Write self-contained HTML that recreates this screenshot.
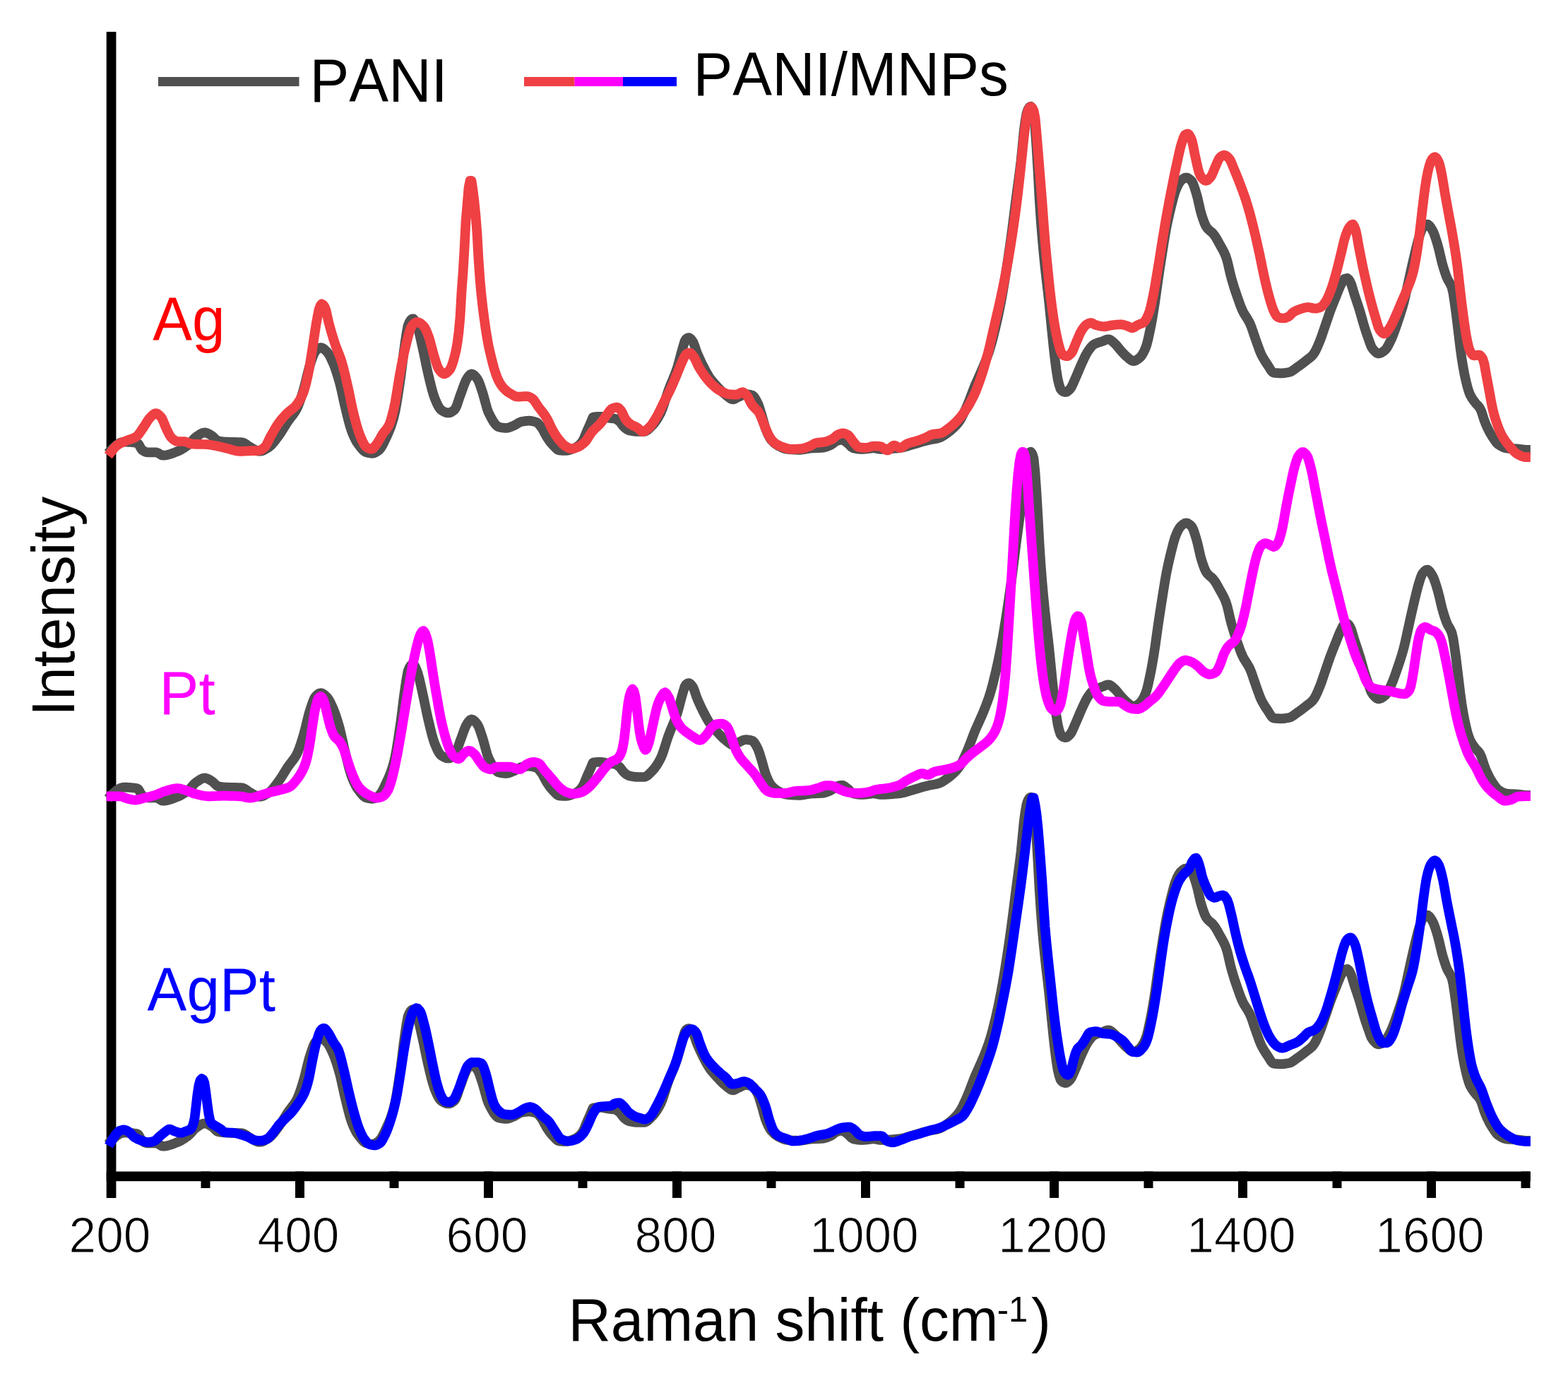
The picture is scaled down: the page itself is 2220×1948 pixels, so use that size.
<!DOCTYPE html>
<html lang="en"><head><meta charset="utf-8"><title>Raman spectra of PANI and PANI/MNPs</title>
<style>
html,body{margin:0;padding:0;background:#fff;}
body{width:2220px;height:1948px;overflow:hidden;}
svg{display:block;}
text{font-family:"Liberation Sans",sans-serif;fill:#000;font-kerning:none;}
.tk{stroke:#fff;stroke-width:1.6;stroke-linejoin:round;}
</style></head>
<body>
<svg width="2220" height="1948" viewBox="0 0 2220 1948" role="img" aria-label="Raman spectra">
<rect width="2220" height="1948" fill="#fff"/>

<g>
<g id="axes">
<rect x="150.7" y="45.0" width="13.7" height="1650.9" fill="#000"/>
<rect x="150.7" y="1658.5" width="2016.15" height="13.7" fill="#000"/>
<rect x="151.00" y="1658.5" width="13.0" height="37.40" fill="#000"/>
<rect x="284.50" y="1658.5" width="13.0" height="23.50" fill="#000"/>
<rect x="418.00" y="1658.5" width="13.0" height="37.40" fill="#000"/>
<rect x="551.50" y="1658.5" width="13.0" height="23.50" fill="#000"/>
<rect x="685.00" y="1658.5" width="13.0" height="37.40" fill="#000"/>
<rect x="818.50" y="1658.5" width="13.0" height="23.50" fill="#000"/>
<rect x="952.00" y="1658.5" width="13.0" height="37.40" fill="#000"/>
<rect x="1085.50" y="1658.5" width="13.0" height="23.50" fill="#000"/>
<rect x="1219.00" y="1658.5" width="13.0" height="37.40" fill="#000"/>
<rect x="1352.50" y="1658.5" width="13.0" height="23.50" fill="#000"/>
<rect x="1486.00" y="1658.5" width="13.0" height="37.40" fill="#000"/>
<rect x="1619.50" y="1658.5" width="13.0" height="23.50" fill="#000"/>
<rect x="1753.00" y="1658.5" width="13.0" height="37.40" fill="#000"/>
<rect x="1886.50" y="1658.5" width="13.0" height="23.50" fill="#000"/>
<rect x="2020.00" y="1658.5" width="13.0" height="37.40" fill="#000"/>
<rect x="2153.50" y="1658.5" width="13.0" height="23.50" fill="#000"/>
</g>
<g id="legend">
<rect x="224.0" y="109.0" width="199.5" height="13.1" fill="#505050"/>
<rect x="742.0" y="109.0" width="71.5" height="13.1" fill="#ef4044"/>
<rect x="813.5" y="109.0" width="68.5" height="13.1" fill="#ff00ff"/>
<rect x="882.0" y="109.0" width="76.0" height="13.1" fill="#0000ff"/>
</g>
<g id="curves">
<path d="M157.5,636.9 L159.5,634.9 L161.5,633.1 L163.5,631.3 L165.5,629.7 L167.5,628.3 L169.5,627.2 L171.5,626.3 L173.5,625.8 L175.5,625.6 L177.5,625.7 L179.5,625.7 L181.5,625.8 L183.5,625.9 L185.5,626.0 L187.5,626.2 L189.5,626.4 L191.5,626.7 L193.5,627.0 L195.5,627.9 L197.5,630.9 L199.5,634.7 L201.5,637.3 L203.5,638.5 L205.5,639.5 L207.5,640.2 L209.5,640.3 L211.5,640.3 L213.5,640.3 L215.5,640.3 L217.5,640.3 L219.5,640.3 L221.5,640.4 L223.5,641.1 L225.5,642.3 L227.5,643.5 L229.5,644.5 L231.5,644.7 L233.5,644.6 L235.5,644.3 L237.5,643.9 L239.5,643.3 L241.5,642.7 L243.5,642.0 L245.5,641.3 L247.5,640.5 L249.5,639.7 L251.5,638.9 L253.5,638.0 L255.5,637.0 L257.5,635.9 L259.5,634.7 L261.5,633.4 L263.5,632.0 L265.5,630.6 L267.5,629.0 L269.5,627.0 L271.5,624.7 L273.5,622.4 L275.5,620.3 L277.5,618.6 L279.5,617.2 L281.5,615.9 L283.5,614.6 L285.5,613.5 L287.5,612.7 L289.5,612.4 L291.5,612.6 L293.5,613.3 L295.5,614.2 L297.5,615.4 L299.5,616.6 L301.5,618.0 L303.5,620.0 L305.5,622.0 L307.5,623.6 L309.5,624.3 L311.5,624.7 L313.5,624.9 L315.5,625.2 L317.5,625.4 L319.5,625.5 L321.5,625.6 L323.5,625.7 L325.5,625.8 L327.5,625.8 L329.5,625.9 L331.5,625.9 L333.5,625.9 L335.5,626.0 L337.5,626.0 L339.5,626.1 L341.5,626.2 L343.5,626.4 L345.5,627.1 L347.5,628.3 L349.5,629.7 L351.5,631.2 L353.5,632.5 L355.5,633.6 L357.5,634.8 L359.5,636.0 L361.5,637.1 L363.5,638.0 L365.5,638.6 L367.5,638.8 L369.5,638.6 L371.5,638.1 L373.5,637.3 L375.5,636.2 L377.5,635.0 L379.5,633.7 L381.5,632.4 L383.5,630.7 L385.5,628.6 L387.5,626.3 L389.5,623.7 L391.5,621.0 L393.5,618.3 L395.5,615.6 L397.5,612.7 L399.5,609.6 L401.5,606.4 L403.5,603.1 L405.5,599.9 L407.5,596.8 L409.5,594.0 L411.5,591.4 L413.5,588.8 L415.5,586.2 L417.5,583.3 L419.5,580.0 L421.5,575.9 L423.5,571.0 L425.5,565.3 L427.5,559.1 L429.5,552.6 L431.5,545.4 L433.5,537.2 L435.5,528.8 L437.5,521.1 L439.5,514.7 L441.5,508.7 L443.5,503.1 L445.5,498.7 L447.5,496.1 L449.5,494.3 L451.5,492.8 L453.5,492.1 L455.5,492.3 L457.5,493.2 L459.5,494.7 L461.5,496.6 L463.5,498.6 L465.5,501.4 L467.5,505.0 L469.5,509.2 L471.5,513.6 L473.5,518.5 L475.5,524.1 L477.5,530.3 L479.5,537.0 L481.5,544.2 L483.5,552.7 L485.5,561.8 L487.5,571.0 L489.5,579.4 L491.5,587.5 L493.5,595.5 L495.5,602.9 L497.5,609.3 L499.5,614.4 L501.5,619.0 L503.5,623.0 L505.5,626.5 L507.5,629.3 L509.5,632.0 L511.5,634.5 L513.5,636.8 L515.5,638.6 L517.5,639.9 L519.5,640.5 L521.5,641.0 L523.5,641.4 L525.5,641.7 L527.5,641.8 L529.5,641.5 L531.5,640.6 L533.5,639.4 L535.5,638.0 L537.5,636.3 L539.5,633.7 L541.5,630.4 L543.5,626.5 L545.5,622.3 L547.5,618.0 L549.5,613.6 L551.5,608.9 L553.5,603.7 L555.5,597.7 L557.5,590.8 L559.5,582.2 L561.5,571.4 L563.5,559.0 L565.5,545.8 L567.5,532.1 L569.5,516.1 L571.5,499.6 L573.5,485.4 L575.5,472.0 L577.5,461.3 L579.5,456.3 L581.5,453.1 L583.5,451.3 L585.5,451.4 L587.5,454.2 L589.5,458.6 L591.5,463.7 L593.5,471.0 L595.5,479.7 L597.5,488.8 L599.5,497.7 L601.5,507.3 L603.5,517.1 L605.5,526.4 L607.5,534.9 L609.5,543.2 L611.5,551.1 L613.5,558.1 L615.5,563.9 L617.5,568.7 L619.5,573.1 L621.5,576.8 L623.5,579.4 L625.5,580.9 L627.5,582.2 L629.5,583.3 L631.5,584.0 L633.5,584.5 L635.5,584.5 L637.5,584.0 L639.5,583.0 L641.5,581.7 L643.5,580.1 L645.5,577.0 L647.5,571.9 L649.5,565.9 L651.5,560.0 L653.5,554.8 L655.5,549.1 L657.5,543.6 L659.5,538.8 L661.5,535.4 L663.5,532.5 L665.5,530.3 L667.5,529.4 L669.5,529.9 L671.5,531.3 L673.5,533.4 L675.5,535.8 L677.5,539.3 L679.5,544.5 L681.5,550.5 L683.5,556.5 L685.5,563.5 L687.5,571.0 L689.5,578.2 L691.5,583.8 L693.5,587.8 L695.5,591.6 L697.5,595.1 L699.5,598.3 L701.5,600.9 L703.5,602.9 L705.5,604.2 L707.5,604.8 L709.5,605.2 L711.5,605.5 L713.5,605.8 L715.5,605.9 L717.5,605.9 L719.5,605.6 L721.5,605.0 L723.5,604.2 L725.5,603.3 L727.5,602.5 L729.5,601.5 L731.5,600.3 L733.5,599.1 L735.5,598.0 L737.5,597.2 L739.5,596.7 L741.5,596.4 L743.5,596.1 L745.5,595.9 L747.5,595.7 L749.5,595.7 L751.5,595.8 L753.5,596.2 L755.5,596.6 L757.5,597.2 L759.5,597.8 L761.5,599.1 L763.5,601.2 L765.5,603.7 L767.5,606.4 L769.5,610.0 L771.5,613.9 L773.5,617.6 L775.5,620.7 L777.5,623.6 L779.5,626.3 L781.5,628.7 L783.5,630.8 L785.5,633.0 L787.5,635.0 L789.5,636.6 L791.5,637.4 L793.5,637.6 L795.5,637.8 L797.5,637.9 L799.5,638.0 L801.5,637.9 L803.5,637.7 L805.5,637.3 L807.5,636.7 L809.5,636.0 L811.5,635.2 L813.5,634.4 L815.5,633.4 L817.5,632.1 L819.5,630.5 L821.5,628.6 L823.5,626.4 L825.5,623.4 L827.5,619.0 L829.5,614.0 L831.5,609.3 L833.5,604.8 L835.5,600.3 L837.5,595.5 L839.5,590.7 L841.5,590.2 L843.5,590.0 L845.5,589.9 L847.5,589.9 L849.5,589.8 L851.5,589.9 L853.5,590.1 L855.5,590.5 L857.5,591.0 L859.5,591.4 L861.5,591.8 L863.5,592.0 L865.5,592.2 L867.5,592.3 L869.5,592.6 L871.5,592.9 L873.5,593.9 L875.5,595.4 L877.5,597.0 L879.5,599.5 L881.5,602.3 L883.5,604.6 L885.5,606.3 L887.5,607.7 L889.5,608.8 L891.5,609.5 L893.5,609.9 L895.5,610.3 L897.5,610.6 L899.5,610.8 L901.5,610.9 L903.5,611.0 L905.5,611.0 L907.5,611.0 L909.5,611.0 L911.5,611.0 L913.5,610.7 L915.5,609.7 L917.5,608.3 L919.5,606.4 L921.5,604.4 L923.5,602.3 L925.5,600.1 L927.5,597.6 L929.5,594.8 L931.5,591.6 L933.5,588.1 L935.5,584.3 L937.5,579.6 L939.5,574.0 L941.5,567.7 L943.5,561.3 L945.5,555.2 L947.5,549.7 L949.5,544.6 L951.5,539.8 L953.5,535.0 L955.5,530.0 L957.5,524.6 L959.5,518.6 L961.5,511.4 L963.5,503.6 L965.5,496.2 L967.5,489.4 L969.5,482.9 L971.5,479.8 L973.5,478.4 L975.5,478.0 L977.5,479.3 L979.5,481.6 L981.5,484.5 L983.5,489.6 L985.5,495.7 L987.5,500.9 L989.5,505.5 L991.5,509.9 L993.5,514.1 L995.5,518.1 L997.5,522.0 L999.5,525.8 L1001.5,529.4 L1003.5,532.7 L1005.5,535.7 L1007.5,538.3 L1009.5,540.7 L1011.5,543.0 L1013.5,545.1 L1015.5,547.3 L1017.5,549.5 L1019.5,551.7 L1021.5,553.7 L1023.5,555.7 L1025.5,557.4 L1027.5,559.0 L1029.5,560.7 L1031.5,562.3 L1033.5,563.8 L1035.5,564.9 L1037.5,565.4 L1039.5,565.2 L1041.5,564.2 L1043.5,563.0 L1045.5,562.1 L1047.5,561.1 L1049.5,560.1 L1051.5,559.1 L1053.5,558.5 L1055.5,558.1 L1057.5,558.2 L1059.5,558.4 L1061.5,558.7 L1063.5,559.2 L1065.5,559.8 L1067.5,561.6 L1069.5,564.6 L1071.5,568.2 L1073.5,572.3 L1075.5,578.1 L1077.5,584.6 L1079.5,591.3 L1081.5,598.6 L1083.5,605.5 L1085.5,610.7 L1087.5,615.3 L1089.5,619.2 L1091.5,622.3 L1093.5,624.5 L1095.5,626.5 L1097.5,628.2 L1099.5,629.6 L1101.5,630.9 L1103.5,631.9 L1105.5,632.9 L1107.5,633.9 L1109.5,634.7 L1111.5,635.4 L1113.5,635.8 L1115.5,636.0 L1117.5,636.2 L1119.5,636.3 L1121.5,636.5 L1123.5,636.6 L1125.5,636.7 L1127.5,636.7 L1129.5,636.8 L1131.5,636.8 L1133.5,636.8 L1135.5,636.6 L1137.5,636.3 L1139.5,636.0 L1141.5,635.6 L1143.5,635.3 L1145.5,634.9 L1147.5,634.6 L1149.5,634.5 L1151.5,634.3 L1153.5,634.3 L1155.5,634.2 L1157.5,634.2 L1159.5,634.1 L1161.5,634.0 L1163.5,633.9 L1165.5,633.7 L1167.5,633.3 L1169.5,632.7 L1171.5,632.0 L1173.5,631.2 L1175.5,630.3 L1177.5,629.2 L1179.5,627.8 L1181.5,626.1 L1183.5,624.8 L1185.5,624.0 L1187.5,623.4 L1189.5,623.0 L1191.5,622.7 L1193.5,622.9 L1195.5,624.0 L1197.5,625.5 L1199.5,627.1 L1201.5,628.7 L1203.5,630.8 L1205.5,632.8 L1207.5,634.1 L1209.5,634.7 L1211.5,635.1 L1213.5,635.4 L1215.5,635.7 L1217.5,635.8 L1219.5,635.9 L1221.5,635.9 L1223.5,635.8 L1225.5,635.6 L1227.5,635.4 L1229.5,635.1 L1231.5,634.9 L1233.5,634.7 L1235.5,634.5 L1237.5,634.4 L1239.5,634.6 L1241.5,635.0 L1243.5,635.5 L1245.5,635.9 L1247.5,635.9 L1249.5,635.9 L1251.5,635.8 L1253.5,635.8 L1255.5,635.7 L1257.5,635.6 L1259.5,635.5 L1261.5,635.3 L1263.5,635.2 L1265.5,635.0 L1267.5,634.8 L1269.5,634.6 L1271.5,634.4 L1273.5,634.2 L1275.5,633.9 L1277.5,633.6 L1279.5,633.1 L1281.5,632.6 L1283.5,632.0 L1285.5,631.4 L1287.5,630.8 L1289.5,630.1 L1291.5,629.6 L1293.5,629.0 L1295.5,628.4 L1297.5,627.9 L1299.5,627.3 L1301.5,626.6 L1303.5,626.0 L1305.5,625.4 L1307.5,624.8 L1309.5,624.3 L1311.5,623.8 L1313.5,623.3 L1315.5,622.8 L1317.5,622.4 L1319.5,622.1 L1321.5,621.8 L1323.5,621.4 L1325.5,621.0 L1327.5,620.5 L1329.5,619.9 L1331.5,619.1 L1333.5,618.1 L1335.5,616.9 L1337.5,615.6 L1339.5,614.2 L1341.5,612.7 L1343.5,611.2 L1345.5,609.7 L1347.5,608.0 L1349.5,606.2 L1351.5,604.3 L1353.5,602.2 L1355.5,599.9 L1357.5,597.4 L1359.5,594.5 L1361.5,591.0 L1363.5,587.0 L1365.5,582.7 L1367.5,578.3 L1369.5,573.7 L1371.5,569.0 L1373.5,563.8 L1375.5,558.5 L1377.5,553.1 L1379.5,548.0 L1381.5,543.2 L1383.5,538.7 L1385.5,534.3 L1387.5,529.9 L1389.5,525.4 L1391.5,520.7 L1393.5,515.8 L1395.5,510.8 L1397.5,505.5 L1399.5,500.0 L1401.5,493.9 L1403.5,487.1 L1405.5,479.7 L1407.5,471.7 L1409.5,463.5 L1411.5,454.8 L1413.5,445.7 L1415.5,435.9 L1417.5,425.6 L1419.5,414.6 L1421.5,402.7 L1423.5,390.3 L1425.5,377.6 L1427.5,364.4 L1429.5,350.8 L1431.5,336.5 L1433.5,321.3 L1435.5,305.5 L1437.5,289.5 L1439.5,274.2 L1441.5,259.4 L1443.5,244.3 L1445.5,228.0 L1447.5,208.0 L1449.5,187.0 L1451.5,171.6 L1453.5,160.4 L1455.5,154.7 L1457.5,151.7 L1459.5,150.7 L1461.5,153.5 L1463.5,159.9 L1465.5,179.6 L1467.5,208.4 L1469.5,242.2 L1471.5,279.3 L1473.5,310.0 L1475.5,335.5 L1477.5,357.6 L1479.5,377.2 L1481.5,395.4 L1483.5,412.3 L1485.5,430.3 L1487.5,450.5 L1489.5,470.6 L1491.5,490.2 L1493.5,508.1 L1495.5,523.5 L1497.5,536.2 L1499.5,544.6 L1501.5,550.7 L1503.5,553.1 L1505.5,554.4 L1507.5,555.1 L1509.5,555.0 L1511.5,554.0 L1513.5,552.3 L1515.5,550.2 L1517.5,547.0 L1519.5,542.6 L1521.5,538.0 L1523.5,533.5 L1525.5,528.8 L1527.5,524.0 L1529.5,519.3 L1531.5,514.8 L1533.5,510.4 L1535.5,506.1 L1537.5,502.1 L1539.5,498.6 L1541.5,495.7 L1543.5,492.9 L1545.5,490.5 L1547.5,488.5 L1549.5,487.2 L1551.5,486.3 L1553.5,485.5 L1555.5,484.8 L1557.5,484.2 L1559.5,483.6 L1561.5,482.9 L1563.5,482.0 L1565.5,481.2 L1567.5,480.5 L1569.5,480.3 L1571.5,480.9 L1573.5,482.1 L1575.5,483.8 L1577.5,485.6 L1579.5,487.5 L1581.5,489.8 L1583.5,492.3 L1585.5,494.8 L1587.5,497.1 L1589.5,499.2 L1591.5,501.3 L1593.5,503.3 L1595.5,505.1 L1597.5,506.8 L1599.5,508.6 L1601.5,510.1 L1603.5,511.0 L1605.5,511.1 L1607.5,510.5 L1609.5,509.5 L1611.5,508.1 L1613.5,506.6 L1615.5,504.5 L1617.5,501.6 L1619.5,498.0 L1621.5,493.6 L1623.5,488.1 L1625.5,480.2 L1627.5,471.0 L1629.5,461.4 L1631.5,450.5 L1633.5,438.7 L1635.5,425.7 L1637.5,411.3 L1639.5,397.0 L1641.5,383.6 L1643.5,370.6 L1645.5,357.9 L1647.5,345.3 L1649.5,333.0 L1651.5,321.8 L1653.5,312.1 L1655.5,303.2 L1657.5,294.9 L1659.5,286.8 L1661.5,279.0 L1663.5,272.3 L1665.5,267.1 L1667.5,262.7 L1669.5,259.0 L1671.5,256.3 L1673.5,254.5 L1675.5,252.9 L1677.5,251.8 L1679.5,251.4 L1681.5,251.8 L1683.5,253.0 L1685.5,254.6 L1687.5,256.7 L1689.5,260.8 L1691.5,266.5 L1693.5,273.0 L1695.5,280.1 L1697.5,289.0 L1699.5,297.8 L1701.5,304.8 L1703.5,310.9 L1705.5,316.3 L1707.5,320.5 L1709.5,323.3 L1711.5,325.4 L1713.5,327.1 L1715.5,328.7 L1717.5,330.7 L1719.5,333.2 L1721.5,336.3 L1723.5,339.7 L1725.5,343.3 L1727.5,347.0 L1729.5,350.5 L1731.5,354.1 L1733.5,358.1 L1735.5,362.8 L1737.5,369.0 L1739.5,377.3 L1741.5,386.2 L1743.5,394.1 L1745.5,400.9 L1747.5,407.4 L1749.5,413.5 L1751.5,419.4 L1753.5,425.1 L1755.5,430.7 L1757.5,435.9 L1759.5,440.4 L1761.5,444.2 L1763.5,447.4 L1765.5,450.4 L1767.5,453.7 L1769.5,457.5 L1771.5,462.3 L1773.5,468.0 L1775.5,474.0 L1777.5,479.7 L1779.5,485.4 L1781.5,491.1 L1783.5,496.5 L1785.5,501.2 L1787.5,505.2 L1789.5,508.7 L1791.5,511.9 L1793.5,514.9 L1795.5,517.9 L1797.5,521.1 L1799.5,524.3 L1801.5,526.7 L1803.5,527.8 L1805.5,528.0 L1807.5,528.1 L1809.5,528.2 L1811.5,528.3 L1813.5,528.3 L1815.5,528.3 L1817.5,528.2 L1819.5,527.9 L1821.5,527.6 L1823.5,527.3 L1825.5,526.9 L1827.5,526.2 L1829.5,525.1 L1831.5,523.8 L1833.5,522.3 L1835.5,520.8 L1837.5,519.3 L1839.5,518.0 L1841.5,516.5 L1843.5,515.0 L1845.5,513.5 L1847.5,511.9 L1849.5,510.3 L1851.5,508.8 L1853.5,507.3 L1855.5,505.7 L1857.5,503.9 L1859.5,501.6 L1861.5,498.5 L1863.5,494.7 L1865.5,490.3 L1867.5,485.6 L1869.5,480.7 L1871.5,475.1 L1873.5,469.3 L1875.5,463.4 L1877.5,457.6 L1879.5,451.6 L1881.5,445.8 L1883.5,440.1 L1885.5,434.9 L1887.5,429.8 L1889.5,424.8 L1891.5,419.9 L1893.5,414.8 L1895.5,409.7 L1897.5,405.0 L1899.5,400.9 L1901.5,397.0 L1903.5,394.8 L1905.5,394.2 L1907.5,393.9 L1909.5,395.3 L1911.5,398.6 L1913.5,403.3 L1915.5,409.9 L1917.5,416.6 L1919.5,422.6 L1921.5,428.6 L1923.5,434.6 L1925.5,441.0 L1927.5,448.0 L1929.5,455.2 L1931.5,461.9 L1933.5,468.2 L1935.5,474.2 L1937.5,479.8 L1939.5,485.5 L1941.5,490.7 L1943.5,493.9 L1945.5,496.3 L1947.5,498.4 L1949.5,499.8 L1951.5,500.5 L1953.5,500.2 L1955.5,499.4 L1957.5,498.3 L1959.5,496.8 L1961.5,495.1 L1963.5,492.5 L1965.5,489.0 L1967.5,485.1 L1969.5,481.0 L1971.5,476.4 L1973.5,471.3 L1975.5,465.7 L1977.5,459.9 L1979.5,454.1 L1981.5,448.2 L1983.5,442.0 L1985.5,435.4 L1987.5,428.3 L1989.5,420.1 L1991.5,411.0 L1993.5,401.7 L1995.5,392.6 L1997.5,383.6 L1999.5,374.7 L2001.5,366.0 L2003.5,357.6 L2005.5,349.3 L2007.5,341.5 L2009.5,334.8 L2011.5,328.5 L2013.5,323.7 L2015.5,321.1 L2017.5,319.1 L2019.5,317.8 L2021.5,317.7 L2023.5,319.2 L2025.5,321.8 L2027.5,325.0 L2029.5,328.7 L2031.5,334.0 L2033.5,340.2 L2035.5,346.8 L2037.5,354.4 L2039.5,362.9 L2041.5,371.3 L2043.5,378.4 L2045.5,384.8 L2047.5,390.6 L2049.5,395.4 L2051.5,398.8 L2053.5,402.2 L2055.5,406.8 L2057.5,415.4 L2059.5,428.7 L2061.5,443.2 L2063.5,459.6 L2065.5,476.1 L2067.5,492.8 L2069.5,507.3 L2071.5,519.6 L2073.5,530.3 L2075.5,539.3 L2077.5,547.4 L2079.5,554.1 L2081.5,559.1 L2083.5,562.7 L2085.5,565.8 L2087.5,568.5 L2089.5,571.1 L2091.5,573.2 L2093.5,575.4 L2095.5,578.2 L2097.5,582.7 L2099.5,588.8 L2101.5,595.1 L2103.5,600.2 L2105.5,604.7 L2107.5,608.9 L2109.5,612.7 L2111.5,616.1 L2113.5,619.3 L2115.5,622.3 L2117.5,625.1 L2119.5,627.5 L2121.5,629.3 L2123.5,630.6 L2125.5,631.7 L2127.5,632.8 L2129.5,633.6 L2131.5,634.2 L2133.5,634.6 L2135.5,634.8 L2137.5,634.9 L2139.5,635.0 L2141.5,635.1 L2143.5,635.2 L2145.5,635.3 L2147.5,635.4 L2149.5,635.6 L2151.5,635.8 L2153.5,636.0 L2155.5,636.3 L2157.5,636.6 L2159.5,636.9 L2160.0,636.9" fill="none" stroke="#505050" stroke-width="13.7" stroke-linejoin="round" stroke-linecap="square"/>
<path d="M157.5,639.7 L159.5,637.1 L161.5,634.7 L163.5,632.5 L165.5,630.7 L167.5,629.3 L169.5,628.1 L171.5,627.1 L173.5,626.2 L175.5,625.3 L177.5,624.5 L179.5,623.6 L181.5,622.9 L183.5,622.2 L185.5,621.6 L187.5,620.9 L189.5,620.1 L191.5,619.1 L193.5,617.8 L195.5,615.9 L197.5,613.3 L199.5,610.4 L201.5,607.4 L203.5,604.5 L205.5,601.4 L207.5,598.1 L209.5,594.9 L211.5,592.3 L213.5,590.2 L215.5,588.2 L217.5,586.4 L219.5,585.3 L221.5,585.2 L223.5,586.1 L225.5,587.8 L227.5,589.8 L229.5,592.6 L231.5,597.1 L233.5,602.2 L235.5,606.8 L237.5,610.9 L239.5,615.0 L241.5,618.3 L243.5,620.5 L245.5,622.2 L247.5,623.6 L249.5,624.7 L251.5,625.0 L253.5,625.0 L255.5,625.0 L257.5,625.0 L259.5,625.0 L261.5,625.1 L263.5,625.6 L265.5,626.4 L267.5,627.3 L269.5,628.0 L271.5,628.5 L273.5,628.6 L275.5,628.7 L277.5,628.8 L279.5,628.8 L281.5,628.9 L283.5,628.9 L285.5,628.9 L287.5,629.0 L289.5,629.0 L291.5,629.1 L293.5,629.2 L295.5,629.4 L297.5,629.7 L299.5,630.0 L301.5,630.4 L303.5,630.7 L305.5,631.1 L307.5,631.5 L309.5,632.0 L311.5,632.4 L313.5,632.9 L315.5,633.4 L317.5,633.9 L319.5,634.4 L321.5,634.9 L323.5,635.4 L325.5,635.9 L327.5,636.5 L329.5,637.1 L331.5,637.6 L333.5,638.1 L335.5,638.5 L337.5,638.7 L339.5,638.8 L341.5,638.8 L343.5,638.8 L345.5,638.7 L347.5,638.6 L349.5,638.5 L351.5,638.4 L353.5,638.3 L355.5,638.2 L357.5,638.2 L359.5,638.2 L361.5,638.1 L363.5,638.1 L365.5,638.0 L367.5,637.7 L369.5,636.9 L371.5,635.7 L373.5,634.1 L375.5,632.3 L377.5,629.3 L379.5,625.3 L381.5,621.0 L383.5,617.1 L385.5,613.6 L387.5,610.1 L389.5,606.7 L391.5,603.5 L393.5,600.4 L395.5,597.6 L397.5,595.0 L399.5,592.6 L401.5,590.4 L403.5,588.2 L405.5,586.2 L407.5,584.2 L409.5,582.4 L411.5,580.8 L413.5,579.3 L415.5,577.6 L417.5,575.8 L419.5,573.5 L421.5,570.9 L423.5,567.9 L425.5,564.4 L427.5,560.4 L429.5,555.7 L431.5,549.6 L433.5,542.0 L435.5,533.3 L437.5,523.6 L439.5,511.7 L441.5,498.9 L443.5,486.0 L445.5,472.4 L447.5,459.5 L449.5,448.3 L451.5,438.4 L453.5,432.9 L455.5,430.4 L457.5,431.5 L459.5,434.1 L461.5,439.0 L463.5,447.9 L465.5,457.0 L467.5,464.3 L469.5,471.3 L471.5,477.9 L473.5,484.2 L475.5,490.1 L477.5,495.4 L479.5,500.3 L481.5,505.4 L483.5,511.3 L485.5,518.3 L487.5,526.1 L489.5,534.5 L491.5,543.1 L493.5,552.0 L495.5,561.7 L497.5,571.6 L499.5,580.9 L501.5,589.2 L503.5,596.8 L505.5,604.0 L507.5,610.4 L509.5,616.0 L511.5,620.7 L513.5,625.2 L515.5,629.1 L517.5,631.9 L519.5,633.5 L521.5,634.6 L523.5,635.5 L525.5,635.9 L527.5,635.4 L529.5,633.6 L531.5,631.0 L533.5,628.4 L535.5,625.4 L537.5,622.0 L539.5,618.4 L541.5,614.9 L543.5,612.0 L545.5,609.6 L547.5,607.1 L549.5,604.2 L551.5,600.2 L553.5,594.4 L555.5,587.2 L557.5,579.0 L559.5,569.7 L561.5,558.0 L563.5,545.2 L565.5,533.0 L567.5,522.3 L569.5,512.1 L571.5,502.4 L573.5,493.5 L575.5,485.5 L577.5,477.7 L579.5,470.4 L581.5,464.5 L583.5,461.0 L585.5,458.8 L587.5,457.1 L589.5,456.1 L591.5,456.0 L593.5,456.7 L595.5,457.9 L597.5,459.5 L599.5,461.4 L601.5,464.1 L603.5,468.0 L605.5,472.8 L607.5,478.1 L609.5,485.1 L611.5,493.0 L613.5,500.5 L615.5,507.0 L617.5,513.5 L619.5,519.2 L621.5,523.0 L623.5,525.6 L625.5,527.8 L627.5,529.1 L629.5,529.3 L631.5,528.5 L633.5,527.0 L635.5,525.0 L637.5,522.4 L639.5,518.0 L641.5,512.1 L643.5,505.0 L645.5,496.7 L647.5,485.5 L649.5,470.3 L651.5,448.7 L653.5,413.0 L655.5,386.5 L657.5,352.9 L659.5,313.1 L661.5,290.0 L663.5,265.9 L665.5,255.9 L667.5,255.8 L669.5,269.1 L671.5,285.1 L673.5,305.1 L675.5,330.8 L677.5,367.0 L679.5,395.5 L681.5,417.4 L683.5,435.2 L685.5,450.7 L687.5,464.9 L689.5,477.6 L691.5,488.6 L693.5,497.7 L695.5,506.0 L697.5,514.0 L699.5,521.5 L701.5,527.8 L703.5,533.3 L705.5,538.1 L707.5,541.9 L709.5,545.0 L711.5,547.7 L713.5,550.0 L715.5,552.0 L717.5,553.7 L719.5,555.2 L721.5,556.5 L723.5,557.7 L725.5,558.9 L727.5,560.0 L729.5,561.0 L731.5,561.5 L733.5,561.6 L735.5,561.6 L737.5,561.5 L739.5,561.3 L741.5,561.2 L743.5,561.1 L745.5,561.1 L747.5,561.2 L749.5,561.9 L751.5,562.9 L753.5,564.1 L755.5,565.9 L757.5,568.6 L759.5,571.7 L761.5,574.8 L763.5,577.5 L765.5,580.1 L767.5,582.6 L769.5,585.3 L771.5,588.1 L773.5,591.2 L775.5,594.7 L777.5,598.8 L779.5,603.1 L781.5,607.2 L783.5,610.8 L785.5,614.1 L787.5,617.2 L789.5,620.1 L791.5,622.6 L793.5,625.0 L795.5,627.3 L797.5,629.3 L799.5,630.9 L801.5,632.2 L803.5,633.4 L805.5,634.4 L807.5,635.1 L809.5,635.3 L811.5,635.1 L813.5,634.6 L815.5,633.9 L817.5,633.2 L819.5,632.3 L821.5,631.1 L823.5,629.7 L825.5,628.1 L827.5,626.3 L829.5,624.3 L831.5,621.5 L833.5,618.4 L835.5,615.2 L837.5,612.2 L839.5,609.8 L841.5,607.8 L843.5,605.9 L845.5,604.0 L847.5,602.1 L849.5,600.1 L851.5,597.7 L853.5,595.1 L855.5,592.3 L857.5,589.5 L859.5,586.9 L861.5,584.1 L863.5,581.3 L865.5,579.2 L867.5,578.2 L869.5,577.4 L871.5,576.9 L873.5,576.6 L875.5,577.3 L877.5,579.1 L879.5,581.5 L881.5,585.0 L883.5,589.6 L885.5,593.4 L887.5,595.9 L889.5,598.0 L891.5,599.7 L893.5,601.1 L895.5,602.2 L897.5,603.1 L899.5,604.0 L901.5,605.0 L903.5,606.4 L905.5,608.2 L907.5,609.8 L909.5,610.8 L911.5,610.8 L913.5,609.9 L915.5,608.5 L917.5,606.7 L919.5,604.8 L921.5,602.7 L923.5,600.0 L925.5,597.0 L927.5,593.8 L929.5,590.4 L931.5,586.9 L933.5,582.9 L935.5,578.8 L937.5,574.6 L939.5,570.4 L941.5,566.5 L943.5,562.6 L945.5,558.7 L947.5,554.7 L949.5,550.5 L951.5,546.1 L953.5,541.5 L955.5,536.8 L957.5,532.0 L959.5,527.2 L961.5,522.2 L963.5,517.2 L965.5,512.6 L967.5,508.4 L969.5,504.2 L971.5,501.3 L973.5,500.2 L975.5,499.5 L977.5,499.7 L979.5,501.5 L981.5,504.1 L983.5,507.1 L985.5,511.1 L987.5,515.6 L989.5,519.6 L991.5,523.0 L993.5,526.1 L995.5,529.1 L997.5,531.9 L999.5,534.5 L1001.5,537.0 L1003.5,539.4 L1005.5,541.6 L1007.5,543.7 L1009.5,545.6 L1011.5,547.3 L1013.5,549.0 L1015.5,550.6 L1017.5,552.0 L1019.5,553.2 L1021.5,554.2 L1023.5,555.2 L1025.5,556.1 L1027.5,557.0 L1029.5,557.6 L1031.5,558.0 L1033.5,558.2 L1035.5,558.4 L1037.5,558.5 L1039.5,558.6 L1041.5,558.7 L1043.5,558.6 L1045.5,557.8 L1047.5,556.6 L1049.5,555.6 L1051.5,555.2 L1053.5,556.0 L1055.5,557.8 L1057.5,559.9 L1059.5,563.1 L1061.5,567.2 L1063.5,571.1 L1065.5,574.1 L1067.5,576.3 L1069.5,578.3 L1071.5,580.3 L1073.5,582.6 L1075.5,585.7 L1077.5,590.2 L1079.5,595.4 L1081.5,600.6 L1083.5,605.3 L1085.5,610.1 L1087.5,614.6 L1089.5,618.3 L1091.5,621.3 L1093.5,623.9 L1095.5,626.0 L1097.5,627.6 L1099.5,628.9 L1101.5,630.0 L1103.5,631.0 L1105.5,631.9 L1107.5,632.6 L1109.5,633.3 L1111.5,634.0 L1113.5,634.6 L1115.5,635.2 L1117.5,635.7 L1119.5,635.9 L1121.5,635.9 L1123.5,635.9 L1125.5,635.8 L1127.5,635.7 L1129.5,635.5 L1131.5,635.4 L1133.5,635.2 L1135.5,635.0 L1137.5,634.6 L1139.5,634.1 L1141.5,633.5 L1143.5,632.7 L1145.5,632.0 L1147.5,631.2 L1149.5,630.1 L1151.5,628.9 L1153.5,627.8 L1155.5,627.1 L1157.5,626.8 L1159.5,626.5 L1161.5,626.3 L1163.5,626.2 L1165.5,625.9 L1167.5,625.6 L1169.5,625.1 L1171.5,624.5 L1173.5,623.8 L1175.5,623.0 L1177.5,622.0 L1179.5,621.0 L1181.5,619.3 L1183.5,617.4 L1185.5,615.8 L1187.5,614.9 L1189.5,614.1 L1191.5,613.6 L1193.5,613.3 L1195.5,613.5 L1197.5,614.3 L1199.5,615.3 L1201.5,616.6 L1203.5,618.8 L1205.5,621.7 L1207.5,624.6 L1209.5,627.0 L1211.5,629.5 L1213.5,631.7 L1215.5,632.9 L1217.5,633.2 L1219.5,633.5 L1221.5,633.7 L1223.5,633.8 L1225.5,633.9 L1227.5,633.7 L1229.5,633.4 L1231.5,632.8 L1233.5,632.2 L1235.5,631.7 L1237.5,631.5 L1239.5,631.5 L1241.5,631.6 L1243.5,631.8 L1245.5,632.0 L1247.5,632.3 L1249.5,633.4 L1251.5,634.9 L1253.5,636.3 L1255.5,637.4 L1257.5,637.4 L1259.5,635.9 L1261.5,633.5 L1263.5,631.4 L1265.5,630.5 L1267.5,631.0 L1269.5,632.0 L1271.5,633.2 L1273.5,633.9 L1275.5,633.9 L1277.5,632.9 L1279.5,631.6 L1281.5,630.0 L1283.5,628.7 L1285.5,627.8 L1287.5,627.1 L1289.5,626.5 L1291.5,625.9 L1293.5,625.4 L1295.5,624.9 L1297.5,624.3 L1299.5,623.7 L1301.5,623.0 L1303.5,622.3 L1305.5,621.5 L1307.5,620.8 L1309.5,620.0 L1311.5,619.1 L1313.5,618.0 L1315.5,616.8 L1317.5,615.8 L1319.5,615.0 L1321.5,614.6 L1323.5,614.4 L1325.5,614.2 L1327.5,614.1 L1329.5,613.8 L1331.5,613.5 L1333.5,612.8 L1335.5,611.8 L1337.5,610.5 L1339.5,609.0 L1341.5,607.5 L1343.5,606.0 L1345.5,604.5 L1347.5,602.9 L1349.5,601.1 L1351.5,599.3 L1353.5,597.4 L1355.5,595.4 L1357.5,593.2 L1359.5,590.9 L1361.5,588.4 L1363.5,585.8 L1365.5,583.0 L1367.5,580.1 L1369.5,577.0 L1371.5,573.8 L1373.5,570.3 L1375.5,566.6 L1377.5,562.7 L1379.5,558.5 L1381.5,553.9 L1383.5,548.9 L1385.5,543.6 L1387.5,538.0 L1389.5,532.1 L1391.5,525.9 L1393.5,519.2 L1395.5,512.2 L1397.5,504.9 L1399.5,497.3 L1401.5,489.1 L1403.5,480.3 L1405.5,471.3 L1407.5,462.4 L1409.5,453.8 L1411.5,445.4 L1413.5,436.8 L1415.5,428.0 L1417.5,418.8 L1419.5,409.3 L1421.5,399.5 L1423.5,389.2 L1425.5,378.5 L1427.5,367.3 L1429.5,355.5 L1431.5,343.1 L1433.5,330.1 L1435.5,316.5 L1437.5,302.2 L1439.5,287.0 L1441.5,270.5 L1443.5,252.4 L1445.5,233.8 L1447.5,214.8 L1449.5,195.6 L1451.5,179.2 L1453.5,164.5 L1455.5,156.8 L1457.5,152.6 L1459.5,151.2 L1461.5,152.8 L1463.5,156.6 L1465.5,166.5 L1467.5,188.0 L1469.5,211.9 L1471.5,237.4 L1473.5,261.5 L1475.5,286.6 L1477.5,314.3 L1479.5,339.9 L1481.5,361.8 L1483.5,382.0 L1485.5,401.7 L1487.5,419.7 L1489.5,435.6 L1491.5,450.0 L1493.5,462.5 L1495.5,473.0 L1497.5,482.2 L1499.5,489.9 L1501.5,496.6 L1503.5,501.4 L1505.5,502.8 L1507.5,503.7 L1509.5,504.2 L1511.5,504.2 L1513.5,503.1 L1515.5,501.4 L1517.5,499.1 L1519.5,495.1 L1521.5,490.0 L1523.5,485.0 L1525.5,480.4 L1527.5,475.6 L1529.5,471.2 L1531.5,467.6 L1533.5,464.7 L1535.5,462.1 L1537.5,460.1 L1539.5,458.8 L1541.5,457.7 L1543.5,457.1 L1545.5,457.2 L1547.5,458.1 L1549.5,459.3 L1551.5,460.2 L1553.5,460.7 L1555.5,461.2 L1557.5,461.6 L1559.5,462.0 L1561.5,462.2 L1563.5,462.3 L1565.5,462.2 L1567.5,461.8 L1569.5,461.4 L1571.5,460.9 L1573.5,460.5 L1575.5,460.2 L1577.5,460.0 L1579.5,459.8 L1581.5,459.6 L1583.5,459.5 L1585.5,459.4 L1587.5,459.4 L1589.5,459.6 L1591.5,460.1 L1593.5,460.7 L1595.5,461.3 L1597.5,462.1 L1599.5,463.2 L1601.5,464.1 L1603.5,464.3 L1605.5,463.6 L1607.5,462.2 L1609.5,460.8 L1611.5,459.8 L1613.5,459.0 L1615.5,458.3 L1617.5,457.5 L1619.5,456.2 L1621.5,453.9 L1623.5,450.4 L1625.5,446.1 L1627.5,440.9 L1629.5,433.4 L1631.5,424.3 L1633.5,414.5 L1635.5,403.5 L1637.5,391.5 L1639.5,379.3 L1641.5,367.0 L1643.5,354.5 L1645.5,342.0 L1647.5,329.9 L1649.5,317.9 L1651.5,306.2 L1653.5,295.1 L1655.5,284.5 L1657.5,274.1 L1659.5,264.0 L1661.5,253.9 L1663.5,244.1 L1665.5,234.6 L1667.5,225.5 L1669.5,216.3 L1671.5,207.9 L1673.5,201.2 L1675.5,195.3 L1677.5,191.2 L1679.5,189.8 L1681.5,189.3 L1683.5,190.7 L1685.5,194.1 L1687.5,198.7 L1689.5,207.4 L1691.5,217.9 L1693.5,227.0 L1695.5,236.1 L1697.5,243.9 L1699.5,248.6 L1701.5,251.7 L1703.5,253.7 L1705.5,255.4 L1707.5,255.9 L1709.5,255.2 L1711.5,253.5 L1713.5,251.4 L1715.5,248.5 L1717.5,244.0 L1719.5,238.9 L1721.5,234.3 L1723.5,229.7 L1725.5,225.4 L1727.5,222.7 L1729.5,221.0 L1731.5,219.9 L1733.5,219.6 L1735.5,220.3 L1737.5,221.7 L1739.5,223.7 L1741.5,226.1 L1743.5,230.2 L1745.5,235.2 L1747.5,240.2 L1749.5,245.0 L1751.5,249.9 L1753.5,254.9 L1755.5,260.1 L1757.5,265.4 L1759.5,270.7 L1761.5,276.3 L1763.5,282.1 L1765.5,288.3 L1767.5,295.0 L1769.5,302.2 L1771.5,309.7 L1773.5,317.5 L1775.5,325.6 L1777.5,334.0 L1779.5,342.7 L1781.5,351.7 L1783.5,360.8 L1785.5,370.5 L1787.5,380.4 L1789.5,389.9 L1791.5,398.7 L1793.5,407.1 L1795.5,415.1 L1797.5,422.4 L1799.5,429.2 L1801.5,435.4 L1803.5,440.4 L1805.5,444.3 L1807.5,447.5 L1809.5,449.1 L1811.5,449.8 L1813.5,450.3 L1815.5,450.5 L1817.5,450.5 L1819.5,450.2 L1821.5,449.5 L1823.5,448.7 L1825.5,447.5 L1827.5,445.5 L1829.5,443.3 L1831.5,441.7 L1833.5,440.6 L1835.5,439.6 L1837.5,438.8 L1839.5,438.0 L1841.5,437.4 L1843.5,436.8 L1845.5,436.1 L1847.5,435.6 L1849.5,435.2 L1851.5,435.0 L1853.5,435.1 L1855.5,435.5 L1857.5,436.0 L1859.5,436.5 L1861.5,436.7 L1863.5,436.7 L1865.5,436.3 L1867.5,435.7 L1869.5,435.0 L1871.5,433.7 L1873.5,431.6 L1875.5,429.0 L1877.5,426.1 L1879.5,422.3 L1881.5,417.8 L1883.5,412.7 L1885.5,407.3 L1887.5,401.2 L1889.5,394.5 L1891.5,387.5 L1893.5,380.0 L1895.5,371.9 L1897.5,363.6 L1899.5,355.5 L1901.5,346.8 L1903.5,338.7 L1905.5,332.4 L1907.5,327.2 L1909.5,323.0 L1911.5,320.3 L1913.5,318.2 L1915.5,317.7 L1917.5,320.8 L1919.5,326.1 L1921.5,335.5 L1923.5,347.6 L1925.5,357.9 L1927.5,368.0 L1929.5,377.8 L1931.5,387.1 L1933.5,396.1 L1935.5,404.8 L1937.5,413.1 L1939.5,421.2 L1941.5,428.8 L1943.5,436.1 L1945.5,443.1 L1947.5,449.7 L1949.5,456.7 L1951.5,463.2 L1953.5,467.2 L1955.5,469.7 L1957.5,471.6 L1959.5,472.5 L1961.5,472.0 L1963.5,470.1 L1965.5,467.3 L1967.5,464.3 L1969.5,461.1 L1971.5,457.1 L1973.5,452.8 L1975.5,448.4 L1977.5,443.9 L1979.5,439.2 L1981.5,434.5 L1983.5,429.7 L1985.5,425.1 L1987.5,420.5 L1989.5,416.0 L1991.5,411.2 L1993.5,406.2 L1995.5,401.2 L1997.5,395.9 L1999.5,389.7 L2001.5,382.0 L2003.5,372.3 L2005.5,361.1 L2007.5,348.2 L2009.5,333.0 L2011.5,316.7 L2013.5,298.8 L2015.5,282.2 L2017.5,266.7 L2019.5,253.7 L2021.5,243.3 L2023.5,235.2 L2025.5,229.3 L2027.5,225.2 L2029.5,223.1 L2031.5,222.2 L2033.5,223.4 L2035.5,226.4 L2037.5,230.6 L2039.5,238.3 L2041.5,247.9 L2043.5,259.6 L2045.5,272.2 L2047.5,283.4 L2049.5,294.3 L2051.5,305.2 L2053.5,316.0 L2055.5,326.8 L2057.5,338.3 L2059.5,350.4 L2061.5,363.3 L2063.5,377.6 L2065.5,394.8 L2067.5,412.6 L2069.5,429.2 L2071.5,445.0 L2073.5,459.7 L2075.5,473.1 L2077.5,483.6 L2079.5,492.2 L2081.5,497.3 L2083.5,500.7 L2085.5,503.0 L2087.5,503.4 L2089.5,503.1 L2091.5,502.8 L2093.5,502.5 L2095.5,503.0 L2097.5,505.1 L2099.5,508.4 L2101.5,515.0 L2103.5,526.6 L2105.5,537.3 L2107.5,548.1 L2109.5,558.9 L2111.5,570.1 L2113.5,579.7 L2115.5,587.5 L2117.5,594.2 L2119.5,600.2 L2121.5,605.6 L2123.5,610.5 L2125.5,614.8 L2127.5,618.4 L2129.5,621.6 L2131.5,624.6 L2133.5,627.2 L2135.5,629.7 L2137.5,632.1 L2139.5,634.5 L2141.5,636.8 L2143.5,638.9 L2145.5,640.8 L2147.5,642.3 L2149.5,643.4 L2151.5,644.5 L2153.5,645.4 L2155.5,646.2 L2157.5,646.8 L2159.5,647.2 L2160.0,647.2" fill="none" stroke="#ef4044" stroke-width="13.7" stroke-linejoin="round" stroke-linecap="square"/>
<path d="M157.5,1125.9 L159.5,1123.9 L161.5,1122.1 L163.5,1120.3 L165.5,1118.7 L167.5,1117.3 L169.5,1116.2 L171.5,1115.3 L173.5,1114.8 L175.5,1114.6 L177.5,1114.7 L179.5,1114.7 L181.5,1114.8 L183.5,1114.9 L185.5,1115.0 L187.5,1115.2 L189.5,1115.4 L191.5,1115.7 L193.5,1116.0 L195.5,1116.9 L197.5,1119.9 L199.5,1123.7 L201.5,1126.3 L203.5,1127.5 L205.5,1128.5 L207.5,1129.2 L209.5,1129.3 L211.5,1129.3 L213.5,1129.3 L215.5,1129.3 L217.5,1129.3 L219.5,1129.3 L221.5,1129.4 L223.5,1130.1 L225.5,1131.3 L227.5,1132.5 L229.5,1133.5 L231.5,1133.7 L233.5,1133.6 L235.5,1133.3 L237.5,1132.9 L239.5,1132.3 L241.5,1131.7 L243.5,1131.0 L245.5,1130.3 L247.5,1129.5 L249.5,1128.7 L251.5,1127.9 L253.5,1127.0 L255.5,1126.0 L257.5,1124.9 L259.5,1123.7 L261.5,1122.4 L263.5,1121.0 L265.5,1119.6 L267.5,1118.0 L269.5,1116.0 L271.5,1113.7 L273.5,1111.4 L275.5,1109.3 L277.5,1107.6 L279.5,1106.2 L281.5,1104.9 L283.5,1103.6 L285.5,1102.5 L287.5,1101.7 L289.5,1101.4 L291.5,1101.6 L293.5,1102.3 L295.5,1103.2 L297.5,1104.4 L299.5,1105.6 L301.5,1107.0 L303.5,1109.0 L305.5,1111.0 L307.5,1112.6 L309.5,1113.3 L311.5,1113.7 L313.5,1113.9 L315.5,1114.2 L317.5,1114.4 L319.5,1114.5 L321.5,1114.6 L323.5,1114.7 L325.5,1114.8 L327.5,1114.8 L329.5,1114.9 L331.5,1114.9 L333.5,1114.9 L335.5,1115.0 L337.5,1115.0 L339.5,1115.1 L341.5,1115.2 L343.5,1115.4 L345.5,1116.1 L347.5,1117.3 L349.5,1118.7 L351.5,1120.2 L353.5,1121.5 L355.5,1122.6 L357.5,1123.8 L359.5,1125.0 L361.5,1126.1 L363.5,1127.0 L365.5,1127.6 L367.5,1127.8 L369.5,1127.6 L371.5,1127.1 L373.5,1126.3 L375.5,1125.2 L377.5,1124.0 L379.5,1122.7 L381.5,1121.4 L383.5,1119.7 L385.5,1117.6 L387.5,1115.3 L389.5,1112.7 L391.5,1110.0 L393.5,1107.3 L395.5,1104.6 L397.5,1101.7 L399.5,1098.6 L401.5,1095.4 L403.5,1092.1 L405.5,1088.9 L407.5,1085.8 L409.5,1083.0 L411.5,1080.4 L413.5,1077.8 L415.5,1075.2 L417.5,1072.3 L419.5,1069.0 L421.5,1064.9 L423.5,1060.0 L425.5,1054.3 L427.5,1048.1 L429.5,1041.6 L431.5,1034.4 L433.5,1026.2 L435.5,1017.8 L437.5,1010.1 L439.5,1003.7 L441.5,997.7 L443.5,992.1 L445.5,987.7 L447.5,985.1 L449.5,983.3 L451.5,981.8 L453.5,981.1 L455.5,981.3 L457.5,982.2 L459.5,983.7 L461.5,985.6 L463.5,987.6 L465.5,990.4 L467.5,994.0 L469.5,998.2 L471.5,1002.6 L473.5,1007.5 L475.5,1013.1 L477.5,1019.3 L479.5,1026.0 L481.5,1033.2 L483.5,1041.7 L485.5,1050.8 L487.5,1060.0 L489.5,1068.4 L491.5,1076.5 L493.5,1084.5 L495.5,1091.9 L497.5,1098.3 L499.5,1103.4 L501.5,1108.0 L503.5,1112.0 L505.5,1115.5 L507.5,1118.3 L509.5,1121.0 L511.5,1123.5 L513.5,1125.8 L515.5,1127.6 L517.5,1128.9 L519.5,1129.5 L521.5,1130.0 L523.5,1130.4 L525.5,1130.7 L527.5,1130.8 L529.5,1130.5 L531.5,1129.6 L533.5,1128.4 L535.5,1127.0 L537.5,1125.3 L539.5,1122.7 L541.5,1119.4 L543.5,1115.5 L545.5,1111.3 L547.5,1107.0 L549.5,1102.6 L551.5,1097.9 L553.5,1092.7 L555.5,1086.7 L557.5,1079.8 L559.5,1071.2 L561.5,1060.4 L563.5,1048.0 L565.5,1034.8 L567.5,1021.1 L569.5,1005.1 L571.5,988.6 L573.5,974.4 L575.5,961.0 L577.5,950.3 L579.5,945.3 L581.5,942.1 L583.5,940.3 L585.5,940.4 L587.5,943.2 L589.5,947.6 L591.5,952.7 L593.5,960.0 L595.5,968.7 L597.5,977.8 L599.5,986.7 L601.5,996.3 L603.5,1006.1 L605.5,1015.4 L607.5,1023.9 L609.5,1032.2 L611.5,1040.1 L613.5,1047.1 L615.5,1052.9 L617.5,1057.7 L619.5,1062.1 L621.5,1065.8 L623.5,1068.4 L625.5,1069.9 L627.5,1071.2 L629.5,1072.3 L631.5,1073.0 L633.5,1073.5 L635.5,1073.5 L637.5,1073.0 L639.5,1072.0 L641.5,1070.7 L643.5,1069.1 L645.5,1066.0 L647.5,1060.9 L649.5,1054.9 L651.5,1049.0 L653.5,1043.8 L655.5,1038.1 L657.5,1032.6 L659.5,1027.8 L661.5,1024.4 L663.5,1021.5 L665.5,1019.3 L667.5,1018.4 L669.5,1018.9 L671.5,1020.3 L673.5,1022.4 L675.5,1024.8 L677.5,1028.3 L679.5,1033.5 L681.5,1039.5 L683.5,1045.5 L685.5,1052.5 L687.5,1060.0 L689.5,1067.2 L691.5,1072.8 L693.5,1076.8 L695.5,1080.6 L697.5,1084.1 L699.5,1087.3 L701.5,1089.9 L703.5,1091.9 L705.5,1093.2 L707.5,1093.8 L709.5,1094.2 L711.5,1094.5 L713.5,1094.8 L715.5,1094.9 L717.5,1094.9 L719.5,1094.6 L721.5,1094.0 L723.5,1093.2 L725.5,1092.3 L727.5,1091.5 L729.5,1090.5 L731.5,1089.3 L733.5,1088.1 L735.5,1087.0 L737.5,1086.2 L739.5,1085.7 L741.5,1085.4 L743.5,1085.1 L745.5,1084.9 L747.5,1084.7 L749.5,1084.7 L751.5,1084.8 L753.5,1085.2 L755.5,1085.6 L757.5,1086.2 L759.5,1086.8 L761.5,1088.1 L763.5,1090.2 L765.5,1092.7 L767.5,1095.4 L769.5,1099.0 L771.5,1102.9 L773.5,1106.6 L775.5,1109.7 L777.5,1112.6 L779.5,1115.3 L781.5,1117.7 L783.5,1119.8 L785.5,1122.0 L787.5,1124.0 L789.5,1125.6 L791.5,1126.4 L793.5,1126.6 L795.5,1126.8 L797.5,1126.9 L799.5,1127.0 L801.5,1126.9 L803.5,1126.7 L805.5,1126.3 L807.5,1125.7 L809.5,1125.0 L811.5,1124.2 L813.5,1123.4 L815.5,1122.4 L817.5,1121.1 L819.5,1119.5 L821.5,1117.6 L823.5,1115.4 L825.5,1112.4 L827.5,1108.0 L829.5,1103.0 L831.5,1098.3 L833.5,1093.8 L835.5,1089.3 L837.5,1084.5 L839.5,1079.7 L841.5,1079.2 L843.5,1079.0 L845.5,1078.9 L847.5,1078.9 L849.5,1078.8 L851.5,1078.9 L853.5,1079.1 L855.5,1079.5 L857.5,1080.0 L859.5,1080.4 L861.5,1080.8 L863.5,1081.0 L865.5,1081.2 L867.5,1081.3 L869.5,1081.6 L871.5,1081.9 L873.5,1082.9 L875.5,1084.4 L877.5,1086.0 L879.5,1088.5 L881.5,1091.3 L883.5,1093.6 L885.5,1095.3 L887.5,1096.7 L889.5,1097.8 L891.5,1098.5 L893.5,1098.9 L895.5,1099.3 L897.5,1099.6 L899.5,1099.8 L901.5,1099.9 L903.5,1100.0 L905.5,1100.0 L907.5,1100.0 L909.5,1100.0 L911.5,1100.0 L913.5,1099.7 L915.5,1098.7 L917.5,1097.3 L919.5,1095.4 L921.5,1093.4 L923.5,1091.3 L925.5,1089.1 L927.5,1086.6 L929.5,1083.8 L931.5,1080.6 L933.5,1077.1 L935.5,1073.3 L937.5,1068.6 L939.5,1063.0 L941.5,1056.7 L943.5,1050.3 L945.5,1044.2 L947.5,1038.7 L949.5,1033.6 L951.5,1028.8 L953.5,1024.0 L955.5,1019.0 L957.5,1013.6 L959.5,1007.6 L961.5,1000.4 L963.5,992.6 L965.5,985.2 L967.5,978.4 L969.5,971.9 L971.5,968.8 L973.5,967.4 L975.5,967.0 L977.5,968.3 L979.5,970.6 L981.5,973.5 L983.5,978.6 L985.5,984.7 L987.5,989.9 L989.5,994.5 L991.5,998.9 L993.5,1003.1 L995.5,1007.1 L997.5,1011.0 L999.5,1014.8 L1001.5,1018.4 L1003.5,1021.7 L1005.5,1024.7 L1007.5,1027.3 L1009.5,1029.7 L1011.5,1032.0 L1013.5,1034.1 L1015.5,1036.3 L1017.5,1038.5 L1019.5,1040.7 L1021.5,1042.7 L1023.5,1044.7 L1025.5,1046.4 L1027.5,1048.0 L1029.5,1049.7 L1031.5,1051.3 L1033.5,1052.8 L1035.5,1053.9 L1037.5,1054.4 L1039.5,1054.2 L1041.5,1053.2 L1043.5,1052.0 L1045.5,1051.1 L1047.5,1050.1 L1049.5,1049.1 L1051.5,1048.1 L1053.5,1047.5 L1055.5,1047.1 L1057.5,1047.2 L1059.5,1047.4 L1061.5,1047.7 L1063.5,1048.2 L1065.5,1048.8 L1067.5,1050.6 L1069.5,1053.6 L1071.5,1057.2 L1073.5,1061.3 L1075.5,1067.1 L1077.5,1073.6 L1079.5,1080.3 L1081.5,1087.6 L1083.5,1094.5 L1085.5,1099.7 L1087.5,1104.3 L1089.5,1108.2 L1091.5,1111.3 L1093.5,1113.5 L1095.5,1115.5 L1097.5,1117.2 L1099.5,1118.6 L1101.5,1119.9 L1103.5,1120.9 L1105.5,1121.9 L1107.5,1122.9 L1109.5,1123.7 L1111.5,1124.4 L1113.5,1124.8 L1115.5,1125.0 L1117.5,1125.2 L1119.5,1125.3 L1121.5,1125.5 L1123.5,1125.6 L1125.5,1125.7 L1127.5,1125.7 L1129.5,1125.8 L1131.5,1125.8 L1133.5,1125.8 L1135.5,1125.6 L1137.5,1125.3 L1139.5,1125.0 L1141.5,1124.6 L1143.5,1124.3 L1145.5,1123.9 L1147.5,1123.6 L1149.5,1123.5 L1151.5,1123.3 L1153.5,1123.3 L1155.5,1123.2 L1157.5,1123.2 L1159.5,1123.1 L1161.5,1123.0 L1163.5,1122.9 L1165.5,1122.7 L1167.5,1122.3 L1169.5,1121.7 L1171.5,1121.0 L1173.5,1120.2 L1175.5,1119.3 L1177.5,1118.2 L1179.5,1116.8 L1181.5,1115.1 L1183.5,1113.8 L1185.5,1113.0 L1187.5,1112.4 L1189.5,1112.0 L1191.5,1111.7 L1193.5,1111.9 L1195.5,1113.0 L1197.5,1114.5 L1199.5,1116.1 L1201.5,1117.7 L1203.5,1119.8 L1205.5,1121.8 L1207.5,1123.1 L1209.5,1123.7 L1211.5,1124.1 L1213.5,1124.4 L1215.5,1124.7 L1217.5,1124.8 L1219.5,1124.9 L1221.5,1124.9 L1223.5,1124.8 L1225.5,1124.6 L1227.5,1124.4 L1229.5,1124.1 L1231.5,1123.9 L1233.5,1123.7 L1235.5,1123.5 L1237.5,1123.4 L1239.5,1123.6 L1241.5,1124.0 L1243.5,1124.5 L1245.5,1124.9 L1247.5,1124.9 L1249.5,1124.9 L1251.5,1124.8 L1253.5,1124.8 L1255.5,1124.7 L1257.5,1124.6 L1259.5,1124.5 L1261.5,1124.3 L1263.5,1124.2 L1265.5,1124.0 L1267.5,1123.8 L1269.5,1123.6 L1271.5,1123.4 L1273.5,1123.2 L1275.5,1122.9 L1277.5,1122.6 L1279.5,1122.1 L1281.5,1121.6 L1283.5,1121.0 L1285.5,1120.4 L1287.5,1119.8 L1289.5,1119.1 L1291.5,1118.6 L1293.5,1118.0 L1295.5,1117.4 L1297.5,1116.9 L1299.5,1116.3 L1301.5,1115.6 L1303.5,1115.0 L1305.5,1114.4 L1307.5,1113.8 L1309.5,1113.3 L1311.5,1112.8 L1313.5,1112.3 L1315.5,1111.8 L1317.5,1111.4 L1319.5,1111.1 L1321.5,1110.8 L1323.5,1110.4 L1325.5,1110.0 L1327.5,1109.5 L1329.5,1108.9 L1331.5,1108.1 L1333.5,1107.1 L1335.5,1105.9 L1337.5,1104.6 L1339.5,1103.2 L1341.5,1101.7 L1343.5,1100.2 L1345.5,1098.7 L1347.5,1097.0 L1349.5,1095.2 L1351.5,1093.3 L1353.5,1091.2 L1355.5,1088.9 L1357.5,1086.4 L1359.5,1083.5 L1361.5,1080.0 L1363.5,1076.0 L1365.5,1071.7 L1367.5,1067.3 L1369.5,1062.7 L1371.5,1058.0 L1373.5,1052.8 L1375.5,1047.5 L1377.5,1042.1 L1379.5,1037.0 L1381.5,1032.2 L1383.5,1027.7 L1385.5,1023.3 L1387.5,1018.9 L1389.5,1014.4 L1391.5,1009.7 L1393.5,1004.8 L1395.5,999.8 L1397.5,994.5 L1399.5,989.0 L1401.5,982.9 L1403.5,976.1 L1405.5,968.7 L1407.5,960.7 L1409.5,952.5 L1411.5,943.8 L1413.5,934.7 L1415.5,924.9 L1417.5,914.6 L1419.5,903.6 L1421.5,891.7 L1423.5,879.3 L1425.5,866.6 L1427.5,853.4 L1429.5,839.8 L1431.5,825.5 L1433.5,810.3 L1435.5,794.5 L1437.5,778.5 L1439.5,763.2 L1441.5,748.4 L1443.5,733.3 L1445.5,717.0 L1447.5,697.0 L1449.5,676.0 L1451.5,660.6 L1453.5,649.4 L1455.5,643.7 L1457.5,640.7 L1459.5,639.7 L1461.5,642.5 L1463.5,648.9 L1465.5,668.6 L1467.5,697.4 L1469.5,731.2 L1471.5,768.3 L1473.5,799.0 L1475.5,824.5 L1477.5,846.6 L1479.5,866.2 L1481.5,884.4 L1483.5,901.3 L1485.5,919.3 L1487.5,939.5 L1489.5,959.6 L1491.5,979.2 L1493.5,997.1 L1495.5,1012.5 L1497.5,1025.2 L1499.5,1033.6 L1501.5,1039.7 L1503.5,1042.1 L1505.5,1043.4 L1507.5,1044.1 L1509.5,1044.0 L1511.5,1043.0 L1513.5,1041.3 L1515.5,1039.2 L1517.5,1036.0 L1519.5,1031.6 L1521.5,1027.0 L1523.5,1022.5 L1525.5,1017.8 L1527.5,1013.0 L1529.5,1008.3 L1531.5,1003.8 L1533.5,999.4 L1535.5,995.1 L1537.5,991.1 L1539.5,987.6 L1541.5,984.7 L1543.5,981.9 L1545.5,979.5 L1547.5,977.5 L1549.5,976.2 L1551.5,975.3 L1553.5,974.5 L1555.5,973.8 L1557.5,973.2 L1559.5,972.6 L1561.5,971.9 L1563.5,971.0 L1565.5,970.2 L1567.5,969.5 L1569.5,969.3 L1571.5,969.9 L1573.5,971.1 L1575.5,972.8 L1577.5,974.6 L1579.5,976.5 L1581.5,978.8 L1583.5,981.3 L1585.5,983.8 L1587.5,986.1 L1589.5,988.2 L1591.5,990.3 L1593.5,992.3 L1595.5,994.1 L1597.5,995.8 L1599.5,997.6 L1601.5,999.1 L1603.5,1000.0 L1605.5,1000.1 L1607.5,999.5 L1609.5,998.5 L1611.5,997.1 L1613.5,995.6 L1615.5,993.5 L1617.5,990.6 L1619.5,987.0 L1621.5,982.6 L1623.5,977.1 L1625.5,969.2 L1627.5,960.0 L1629.5,950.4 L1631.5,939.5 L1633.5,927.7 L1635.5,914.7 L1637.5,900.3 L1639.5,886.0 L1641.5,872.6 L1643.5,859.6 L1645.5,846.9 L1647.5,834.3 L1649.5,822.0 L1651.5,810.8 L1653.5,801.1 L1655.5,792.2 L1657.5,783.9 L1659.5,775.8 L1661.5,768.0 L1663.5,761.3 L1665.5,756.1 L1667.5,751.7 L1669.5,748.0 L1671.5,745.3 L1673.5,743.5 L1675.5,741.9 L1677.5,740.8 L1679.5,740.4 L1681.5,740.8 L1683.5,742.0 L1685.5,743.6 L1687.5,745.7 L1689.5,749.8 L1691.5,755.5 L1693.5,762.0 L1695.5,769.1 L1697.5,778.0 L1699.5,786.8 L1701.5,793.8 L1703.5,799.9 L1705.5,805.3 L1707.5,809.5 L1709.5,812.3 L1711.5,814.4 L1713.5,816.1 L1715.5,817.7 L1717.5,819.7 L1719.5,822.2 L1721.5,825.3 L1723.5,828.7 L1725.5,832.3 L1727.5,836.0 L1729.5,839.5 L1731.5,843.1 L1733.5,847.1 L1735.5,851.8 L1737.5,858.0 L1739.5,866.3 L1741.5,875.2 L1743.5,883.1 L1745.5,889.9 L1747.5,896.4 L1749.5,902.5 L1751.5,908.4 L1753.5,914.1 L1755.5,919.7 L1757.5,924.9 L1759.5,929.4 L1761.5,933.2 L1763.5,936.4 L1765.5,939.4 L1767.5,942.7 L1769.5,946.5 L1771.5,951.3 L1773.5,957.0 L1775.5,963.0 L1777.5,968.7 L1779.5,974.4 L1781.5,980.1 L1783.5,985.5 L1785.5,990.2 L1787.5,994.2 L1789.5,997.7 L1791.5,1000.9 L1793.5,1003.9 L1795.5,1006.9 L1797.5,1010.1 L1799.5,1013.3 L1801.5,1015.7 L1803.5,1016.8 L1805.5,1017.0 L1807.5,1017.1 L1809.5,1017.2 L1811.5,1017.3 L1813.5,1017.3 L1815.5,1017.3 L1817.5,1017.2 L1819.5,1016.9 L1821.5,1016.6 L1823.5,1016.3 L1825.5,1015.9 L1827.5,1015.2 L1829.5,1014.1 L1831.5,1012.8 L1833.5,1011.3 L1835.5,1009.8 L1837.5,1008.3 L1839.5,1007.0 L1841.5,1005.5 L1843.5,1004.0 L1845.5,1002.5 L1847.5,1000.9 L1849.5,999.3 L1851.5,997.8 L1853.5,996.3 L1855.5,994.7 L1857.5,992.9 L1859.5,990.6 L1861.5,987.5 L1863.5,983.7 L1865.5,979.3 L1867.5,974.6 L1869.5,969.7 L1871.5,964.1 L1873.5,958.3 L1875.5,952.4 L1877.5,946.6 L1879.5,940.6 L1881.5,934.8 L1883.5,929.1 L1885.5,923.9 L1887.5,918.8 L1889.5,913.8 L1891.5,908.9 L1893.5,903.8 L1895.5,898.7 L1897.5,894.0 L1899.5,889.9 L1901.5,886.0 L1903.5,883.8 L1905.5,883.2 L1907.5,882.9 L1909.5,884.3 L1911.5,887.6 L1913.5,892.3 L1915.5,898.9 L1917.5,905.6 L1919.5,911.6 L1921.5,917.6 L1923.5,923.6 L1925.5,930.0 L1927.5,937.0 L1929.5,944.2 L1931.5,950.9 L1933.5,957.2 L1935.5,963.2 L1937.5,968.8 L1939.5,974.5 L1941.5,979.7 L1943.5,982.9 L1945.5,985.3 L1947.5,987.4 L1949.5,988.8 L1951.5,989.5 L1953.5,989.2 L1955.5,988.4 L1957.5,987.3 L1959.5,985.8 L1961.5,984.1 L1963.5,981.5 L1965.5,978.0 L1967.5,974.1 L1969.5,970.0 L1971.5,965.4 L1973.5,960.3 L1975.5,954.7 L1977.5,948.9 L1979.5,943.1 L1981.5,937.2 L1983.5,931.0 L1985.5,924.4 L1987.5,917.3 L1989.5,909.1 L1991.5,900.0 L1993.5,890.7 L1995.5,881.6 L1997.5,872.6 L1999.5,863.7 L2001.5,855.0 L2003.5,846.6 L2005.5,838.3 L2007.5,830.5 L2009.5,823.8 L2011.5,817.5 L2013.5,812.7 L2015.5,810.1 L2017.5,808.1 L2019.5,806.8 L2021.5,806.7 L2023.5,808.2 L2025.5,810.8 L2027.5,814.0 L2029.5,817.7 L2031.5,823.0 L2033.5,829.2 L2035.5,835.8 L2037.5,843.4 L2039.5,851.9 L2041.5,860.3 L2043.5,867.4 L2045.5,873.8 L2047.5,879.6 L2049.5,884.4 L2051.5,887.8 L2053.5,891.2 L2055.5,895.8 L2057.5,904.4 L2059.5,917.7 L2061.5,932.2 L2063.5,948.6 L2065.5,965.1 L2067.5,981.8 L2069.5,996.3 L2071.5,1008.6 L2073.5,1019.3 L2075.5,1028.3 L2077.5,1036.4 L2079.5,1043.1 L2081.5,1048.1 L2083.5,1051.7 L2085.5,1054.8 L2087.5,1057.5 L2089.5,1060.1 L2091.5,1062.2 L2093.5,1064.4 L2095.5,1067.2 L2097.5,1071.7 L2099.5,1077.8 L2101.5,1084.1 L2103.5,1089.2 L2105.5,1093.7 L2107.5,1097.9 L2109.5,1101.7 L2111.5,1105.1 L2113.5,1108.3 L2115.5,1111.3 L2117.5,1114.1 L2119.5,1116.5 L2121.5,1118.3 L2123.5,1119.6 L2125.5,1120.7 L2127.5,1121.8 L2129.5,1122.6 L2131.5,1123.2 L2133.5,1123.6 L2135.5,1123.8 L2137.5,1123.9 L2139.5,1124.0 L2141.5,1124.1 L2143.5,1124.2 L2145.5,1124.3 L2147.5,1124.4 L2149.5,1124.6 L2151.5,1124.8 L2153.5,1125.0 L2155.5,1125.3 L2157.5,1125.6 L2159.5,1125.9 L2160.0,1125.9" fill="none" stroke="#505050" stroke-width="13.7" stroke-linejoin="round" stroke-linecap="square"/>
<path d="M157.5,1127.3 L159.5,1127.3 L161.5,1127.3 L163.5,1127.3 L165.5,1127.3 L167.5,1127.3 L169.5,1127.3 L171.5,1127.5 L173.5,1128.1 L175.5,1128.8 L177.5,1129.6 L179.5,1130.4 L181.5,1130.9 L183.5,1131.4 L185.5,1131.8 L187.5,1132.2 L189.5,1132.5 L191.5,1132.6 L193.5,1132.4 L195.5,1132.1 L197.5,1131.6 L199.5,1131.1 L201.5,1130.5 L203.5,1129.9 L205.5,1129.4 L207.5,1128.9 L209.5,1128.5 L211.5,1128.0 L213.5,1127.5 L215.5,1126.9 L217.5,1126.3 L219.5,1125.7 L221.5,1125.0 L223.5,1124.2 L225.5,1123.3 L227.5,1122.4 L229.5,1121.5 L231.5,1120.7 L233.5,1120.1 L235.5,1119.5 L237.5,1118.9 L239.5,1118.3 L241.5,1117.7 L243.5,1117.2 L245.5,1116.8 L247.5,1116.4 L249.5,1116.2 L251.5,1116.1 L253.5,1116.3 L255.5,1116.6 L257.5,1117.2 L259.5,1117.8 L261.5,1118.5 L263.5,1119.1 L265.5,1119.8 L267.5,1120.5 L269.5,1121.4 L271.5,1122.2 L273.5,1123.0 L275.5,1123.7 L277.5,1124.2 L279.5,1124.7 L281.5,1125.2 L283.5,1125.6 L285.5,1126.1 L287.5,1126.5 L289.5,1126.8 L291.5,1127.0 L293.5,1127.2 L295.5,1127.3 L297.5,1127.3 L299.5,1127.2 L301.5,1127.2 L303.5,1127.1 L305.5,1127.0 L307.5,1126.9 L309.5,1126.8 L311.5,1126.8 L313.5,1126.7 L315.5,1126.7 L317.5,1126.7 L319.5,1126.7 L321.5,1126.7 L323.5,1126.8 L325.5,1126.8 L327.5,1126.8 L329.5,1126.9 L331.5,1127.0 L333.5,1127.0 L335.5,1127.1 L337.5,1127.2 L339.5,1127.3 L341.5,1127.5 L343.5,1127.8 L345.5,1128.2 L347.5,1128.7 L349.5,1129.1 L351.5,1129.4 L353.5,1129.6 L355.5,1129.6 L357.5,1129.3 L359.5,1128.9 L361.5,1128.3 L363.5,1127.6 L365.5,1126.9 L367.5,1126.2 L369.5,1125.7 L371.5,1125.1 L373.5,1124.5 L375.5,1123.8 L377.5,1123.2 L379.5,1122.6 L381.5,1122.0 L383.5,1121.4 L385.5,1120.9 L387.5,1120.5 L389.5,1120.0 L391.5,1119.6 L393.5,1119.1 L395.5,1118.6 L397.5,1118.1 L399.5,1117.6 L401.5,1117.0 L403.5,1116.5 L405.5,1115.9 L407.5,1115.2 L409.5,1114.3 L411.5,1113.2 L413.5,1111.4 L415.5,1109.3 L417.5,1106.9 L419.5,1104.5 L421.5,1101.9 L423.5,1099.1 L425.5,1095.9 L427.5,1092.4 L429.5,1088.3 L431.5,1083.5 L433.5,1077.5 L435.5,1069.5 L437.5,1059.3 L439.5,1047.1 L441.5,1033.1 L443.5,1019.9 L445.5,1007.2 L447.5,998.1 L449.5,991.2 L451.5,987.5 L453.5,985.9 L455.5,986.7 L457.5,990.1 L459.5,995.2 L461.5,1003.7 L463.5,1012.3 L465.5,1020.8 L467.5,1028.1 L469.5,1034.0 L471.5,1039.1 L473.5,1042.6 L475.5,1044.8 L477.5,1046.5 L479.5,1048.3 L481.5,1050.8 L483.5,1054.0 L485.5,1057.9 L487.5,1062.6 L489.5,1068.7 L491.5,1075.1 L493.5,1081.0 L495.5,1087.0 L497.5,1092.6 L499.5,1097.7 L501.5,1102.3 L503.5,1106.7 L505.5,1110.4 L507.5,1113.4 L509.5,1115.8 L511.5,1117.8 L513.5,1119.6 L515.5,1121.2 L517.5,1122.7 L519.5,1124.0 L521.5,1125.2 L523.5,1126.2 L525.5,1127.1 L527.5,1128.0 L529.5,1128.8 L531.5,1129.4 L533.5,1129.6 L535.5,1129.5 L537.5,1129.0 L539.5,1128.4 L541.5,1127.6 L543.5,1126.5 L545.5,1124.5 L547.5,1121.7 L549.5,1118.5 L551.5,1113.8 L553.5,1107.5 L555.5,1100.4 L557.5,1092.2 L559.5,1083.0 L561.5,1073.1 L563.5,1062.6 L565.5,1051.4 L567.5,1039.9 L569.5,1028.0 L571.5,1015.8 L573.5,1003.8 L575.5,991.6 L577.5,979.6 L579.5,967.9 L581.5,956.6 L583.5,945.6 L585.5,935.6 L587.5,926.1 L589.5,917.3 L591.5,909.4 L593.5,902.1 L595.5,897.4 L597.5,894.3 L599.5,893.0 L601.5,895.5 L603.5,900.5 L605.5,907.6 L607.5,917.9 L609.5,929.8 L611.5,943.8 L613.5,956.8 L615.5,969.0 L617.5,980.8 L619.5,992.3 L621.5,1003.9 L623.5,1014.6 L625.5,1023.9 L627.5,1032.2 L629.5,1039.7 L631.5,1046.5 L633.5,1052.9 L635.5,1058.4 L637.5,1062.8 L639.5,1066.7 L641.5,1069.6 L643.5,1071.4 L645.5,1073.0 L647.5,1074.1 L649.5,1074.4 L651.5,1073.2 L653.5,1070.7 L655.5,1068.2 L657.5,1066.4 L659.5,1064.8 L661.5,1063.4 L663.5,1062.7 L665.5,1063.0 L667.5,1064.0 L669.5,1065.6 L671.5,1067.3 L673.5,1069.6 L675.5,1072.6 L677.5,1075.8 L679.5,1078.5 L681.5,1081.3 L683.5,1084.0 L685.5,1085.9 L687.5,1087.0 L689.5,1087.9 L691.5,1088.6 L693.5,1089.0 L695.5,1089.1 L697.5,1088.3 L699.5,1087.1 L701.5,1086.1 L703.5,1085.6 L705.5,1085.6 L707.5,1085.6 L709.5,1085.6 L711.5,1085.6 L713.5,1085.6 L715.5,1085.6 L717.5,1085.6 L719.5,1085.6 L721.5,1085.6 L723.5,1085.8 L725.5,1086.4 L727.5,1087.0 L729.5,1087.7 L731.5,1088.4 L733.5,1088.9 L735.5,1089.1 L737.5,1088.7 L739.5,1087.3 L741.5,1085.5 L743.5,1083.6 L745.5,1082.1 L747.5,1081.1 L749.5,1080.2 L751.5,1079.4 L753.5,1079.0 L755.5,1078.9 L757.5,1079.1 L759.5,1079.5 L761.5,1080.1 L763.5,1081.1 L765.5,1083.1 L767.5,1085.8 L769.5,1088.7 L771.5,1091.2 L773.5,1093.5 L775.5,1095.7 L777.5,1098.0 L779.5,1100.3 L781.5,1102.6 L783.5,1105.0 L785.5,1107.4 L787.5,1109.8 L789.5,1112.1 L791.5,1114.0 L793.5,1115.8 L795.5,1117.5 L797.5,1119.0 L799.5,1120.3 L801.5,1121.3 L803.5,1122.0 L805.5,1122.6 L807.5,1123.2 L809.5,1123.6 L811.5,1123.7 L813.5,1123.7 L815.5,1123.5 L817.5,1123.1 L819.5,1122.7 L821.5,1122.1 L823.5,1121.5 L825.5,1120.7 L827.5,1119.5 L829.5,1118.0 L831.5,1116.4 L833.5,1114.6 L835.5,1112.8 L837.5,1110.7 L839.5,1108.5 L841.5,1106.1 L843.5,1103.7 L845.5,1101.3 L847.5,1098.8 L849.5,1096.2 L851.5,1093.5 L853.5,1090.8 L855.5,1088.4 L857.5,1086.1 L859.5,1083.9 L861.5,1081.8 L863.5,1079.9 L865.5,1078.5 L867.5,1077.5 L869.5,1076.7 L871.5,1075.8 L873.5,1074.6 L875.5,1072.7 L877.5,1069.9 L879.5,1065.9 L881.5,1059.1 L883.5,1048.3 L885.5,1031.1 L887.5,1010.8 L889.5,994.5 L891.5,984.7 L893.5,978.8 L895.5,975.4 L897.5,978.3 L899.5,986.1 L901.5,1001.1 L903.5,1019.0 L905.5,1035.3 L907.5,1046.1 L909.5,1052.9 L911.5,1058.1 L913.5,1061.7 L915.5,1060.2 L917.5,1055.0 L919.5,1048.4 L921.5,1039.4 L923.5,1030.1 L925.5,1020.6 L927.5,1011.7 L929.5,1003.2 L931.5,996.6 L933.5,991.6 L935.5,987.6 L937.5,984.2 L939.5,981.3 L941.5,980.3 L943.5,981.8 L945.5,984.9 L947.5,988.6 L949.5,994.4 L951.5,1001.0 L953.5,1007.4 L955.5,1013.8 L957.5,1018.9 L959.5,1022.8 L961.5,1026.1 L963.5,1028.9 L965.5,1031.2 L967.5,1033.1 L969.5,1034.8 L971.5,1036.3 L973.5,1037.7 L975.5,1039.2 L977.5,1040.6 L979.5,1041.9 L981.5,1043.1 L983.5,1044.3 L985.5,1045.7 L987.5,1046.9 L989.5,1047.8 L991.5,1048.0 L993.5,1047.2 L995.5,1045.6 L997.5,1043.4 L999.5,1041.2 L1001.5,1038.7 L1003.5,1035.7 L1005.5,1032.6 L1007.5,1030.2 L1009.5,1028.3 L1011.5,1026.6 L1013.5,1025.4 L1015.5,1025.0 L1017.5,1024.8 L1019.5,1024.6 L1021.5,1024.5 L1023.5,1024.8 L1025.5,1025.8 L1027.5,1027.3 L1029.5,1029.1 L1031.5,1032.6 L1033.5,1037.6 L1035.5,1043.0 L1037.5,1049.1 L1039.5,1055.6 L1041.5,1060.8 L1043.5,1064.9 L1045.5,1068.5 L1047.5,1071.7 L1049.5,1074.5 L1051.5,1076.9 L1053.5,1079.2 L1055.5,1081.3 L1057.5,1083.4 L1059.5,1085.7 L1061.5,1087.9 L1063.5,1090.0 L1065.5,1092.3 L1067.5,1094.6 L1069.5,1097.2 L1071.5,1100.1 L1073.5,1103.3 L1075.5,1106.4 L1077.5,1109.3 L1079.5,1112.1 L1081.5,1114.9 L1083.5,1117.4 L1085.5,1119.3 L1087.5,1120.4 L1089.5,1121.2 L1091.5,1121.9 L1093.5,1122.5 L1095.5,1122.8 L1097.5,1122.9 L1099.5,1122.9 L1101.5,1122.9 L1103.5,1122.9 L1105.5,1122.9 L1107.5,1122.9 L1109.5,1122.9 L1111.5,1122.9 L1113.5,1122.7 L1115.5,1122.4 L1117.5,1121.9 L1119.5,1121.4 L1121.5,1120.8 L1123.5,1120.3 L1125.5,1120.0 L1127.5,1119.8 L1129.5,1119.7 L1131.5,1119.6 L1133.5,1119.6 L1135.5,1119.5 L1137.5,1119.4 L1139.5,1119.3 L1141.5,1119.2 L1143.5,1119.1 L1145.5,1118.9 L1147.5,1118.5 L1149.5,1118.1 L1151.5,1117.5 L1153.5,1117.0 L1155.5,1116.4 L1157.5,1115.8 L1159.5,1115.2 L1161.5,1114.5 L1163.5,1113.7 L1165.5,1113.0 L1167.5,1112.4 L1169.5,1112.0 L1171.5,1112.0 L1173.5,1112.1 L1175.5,1112.2 L1177.5,1112.4 L1179.5,1112.7 L1181.5,1113.4 L1183.5,1114.5 L1185.5,1115.8 L1187.5,1116.9 L1189.5,1117.7 L1191.5,1118.6 L1193.5,1119.5 L1195.5,1120.3 L1197.5,1120.9 L1199.5,1121.4 L1201.5,1121.7 L1203.5,1122.0 L1205.5,1122.3 L1207.5,1122.5 L1209.5,1122.7 L1211.5,1122.8 L1213.5,1122.9 L1215.5,1122.9 L1217.5,1122.8 L1219.5,1122.6 L1221.5,1122.4 L1223.5,1122.2 L1225.5,1121.9 L1227.5,1121.6 L1229.5,1121.3 L1231.5,1120.8 L1233.5,1120.2 L1235.5,1119.4 L1237.5,1118.7 L1239.5,1118.1 L1241.5,1117.7 L1243.5,1117.4 L1245.5,1117.1 L1247.5,1116.9 L1249.5,1116.7 L1251.5,1116.4 L1253.5,1116.2 L1255.5,1115.9 L1257.5,1115.6 L1259.5,1115.3 L1261.5,1114.9 L1263.5,1114.4 L1265.5,1113.9 L1267.5,1113.4 L1269.5,1112.8 L1271.5,1112.2 L1273.5,1111.4 L1275.5,1110.4 L1277.5,1109.1 L1279.5,1107.7 L1281.5,1106.3 L1283.5,1105.0 L1285.5,1103.8 L1287.5,1102.8 L1289.5,1101.7 L1291.5,1100.7 L1293.5,1099.8 L1295.5,1098.8 L1297.5,1097.9 L1299.5,1096.9 L1301.5,1095.9 L1303.5,1095.2 L1305.5,1095.0 L1307.5,1095.3 L1309.5,1096.0 L1311.5,1096.6 L1313.5,1097.0 L1315.5,1096.7 L1317.5,1095.7 L1319.5,1094.3 L1321.5,1093.1 L1323.5,1092.4 L1325.5,1091.9 L1327.5,1091.5 L1329.5,1091.1 L1331.5,1090.8 L1333.5,1090.4 L1335.5,1090.1 L1337.5,1089.6 L1339.5,1089.2 L1341.5,1088.8 L1343.5,1088.3 L1345.5,1087.8 L1347.5,1087.2 L1349.5,1086.6 L1351.5,1086.0 L1353.5,1085.2 L1355.5,1084.4 L1357.5,1083.4 L1359.5,1082.3 L1361.5,1080.7 L1363.5,1078.6 L1365.5,1076.4 L1367.5,1074.2 L1369.5,1072.4 L1371.5,1070.6 L1373.5,1068.9 L1375.5,1067.2 L1377.5,1065.5 L1379.5,1063.9 L1381.5,1062.4 L1383.5,1061.0 L1385.5,1059.5 L1387.5,1058.0 L1389.5,1056.5 L1391.5,1054.9 L1393.5,1053.4 L1395.5,1051.8 L1397.5,1050.1 L1399.5,1048.2 L1401.5,1046.0 L1403.5,1043.6 L1405.5,1040.8 L1407.5,1037.5 L1409.5,1033.6 L1411.5,1028.8 L1413.5,1022.9 L1415.5,1015.3 L1417.5,1005.3 L1419.5,992.7 L1421.5,976.5 L1423.5,955.3 L1425.5,928.2 L1427.5,895.5 L1429.5,861.8 L1431.5,827.7 L1433.5,793.7 L1435.5,757.3 L1437.5,723.4 L1439.5,694.3 L1441.5,670.4 L1443.5,653.6 L1445.5,643.3 L1447.5,639.6 L1449.5,640.4 L1451.5,647.5 L1453.5,665.7 L1455.5,693.9 L1457.5,724.6 L1459.5,753.6 L1461.5,781.0 L1463.5,808.7 L1465.5,836.4 L1467.5,863.9 L1469.5,889.9 L1471.5,913.0 L1473.5,933.3 L1475.5,950.1 L1477.5,964.4 L1479.5,975.9 L1481.5,985.4 L1483.5,992.2 L1485.5,997.6 L1487.5,1001.7 L1489.5,1004.0 L1491.5,1005.7 L1493.5,1006.7 L1495.5,1006.6 L1497.5,1004.8 L1499.5,1001.7 L1501.5,996.8 L1503.5,987.6 L1505.5,976.7 L1507.5,963.2 L1509.5,949.3 L1511.5,935.8 L1513.5,922.6 L1515.5,909.9 L1517.5,898.2 L1519.5,887.9 L1521.5,879.1 L1523.5,874.6 L1525.5,872.1 L1527.5,872.6 L1529.5,875.9 L1531.5,882.0 L1533.5,895.1 L1535.5,907.3 L1537.5,919.3 L1539.5,931.6 L1541.5,944.3 L1543.5,954.3 L1545.5,962.1 L1547.5,968.6 L1549.5,974.2 L1551.5,979.4 L1553.5,983.7 L1555.5,986.6 L1557.5,989.0 L1559.5,990.9 L1561.5,992.1 L1563.5,992.5 L1565.5,992.9 L1567.5,993.1 L1569.5,993.3 L1571.5,993.4 L1573.5,993.4 L1575.5,993.4 L1577.5,993.4 L1579.5,993.4 L1581.5,993.4 L1583.5,993.4 L1585.5,993.7 L1587.5,994.8 L1589.5,996.3 L1591.5,997.8 L1593.5,999.1 L1595.5,1000.3 L1597.5,1001.5 L1599.5,1002.4 L1601.5,1003.1 L1603.5,1003.4 L1605.5,1003.6 L1607.5,1003.8 L1609.5,1003.9 L1611.5,1003.9 L1613.5,1003.3 L1615.5,1002.3 L1617.5,1001.2 L1619.5,1000.0 L1621.5,998.6 L1623.5,996.9 L1625.5,995.0 L1627.5,993.2 L1629.5,991.6 L1631.5,990.1 L1633.5,988.5 L1635.5,986.8 L1637.5,984.7 L1639.5,982.3 L1641.5,979.6 L1643.5,976.8 L1645.5,973.9 L1647.5,971.0 L1649.5,968.0 L1651.5,965.0 L1653.5,961.9 L1655.5,958.9 L1657.5,955.8 L1659.5,952.7 L1661.5,949.7 L1663.5,947.0 L1665.5,944.2 L1667.5,941.6 L1669.5,939.4 L1671.5,937.8 L1673.5,936.4 L1675.5,935.3 L1677.5,934.7 L1679.5,934.8 L1681.5,935.2 L1683.5,935.8 L1685.5,936.6 L1687.5,937.3 L1689.5,938.4 L1691.5,939.8 L1693.5,941.3 L1695.5,942.9 L1697.5,944.6 L1699.5,946.7 L1701.5,948.8 L1703.5,950.6 L1705.5,951.9 L1707.5,953.0 L1709.5,954.0 L1711.5,954.6 L1713.5,954.6 L1715.5,954.2 L1717.5,953.6 L1719.5,952.7 L1721.5,951.6 L1723.5,949.0 L1725.5,945.0 L1727.5,940.6 L1729.5,935.1 L1731.5,929.0 L1733.5,924.3 L1735.5,920.5 L1737.5,917.2 L1739.5,914.5 L1741.5,912.5 L1743.5,911.0 L1745.5,909.7 L1747.5,907.9 L1749.5,905.1 L1751.5,901.4 L1753.5,896.8 L1755.5,891.7 L1757.5,885.6 L1759.5,878.3 L1761.5,870.2 L1763.5,861.5 L1765.5,851.5 L1767.5,841.0 L1769.5,830.8 L1771.5,820.5 L1773.5,810.6 L1775.5,801.6 L1777.5,793.0 L1779.5,785.8 L1781.5,780.3 L1783.5,775.5 L1785.5,772.4 L1787.5,770.8 L1789.5,769.6 L1791.5,769.1 L1793.5,769.4 L1795.5,770.2 L1797.5,771.1 L1799.5,772.3 L1801.5,773.5 L1803.5,774.1 L1805.5,773.2 L1807.5,770.9 L1809.5,768.0 L1811.5,763.1 L1813.5,756.0 L1815.5,747.9 L1817.5,737.6 L1819.5,725.8 L1821.5,714.7 L1823.5,704.4 L1825.5,694.5 L1827.5,684.9 L1829.5,675.2 L1831.5,666.1 L1833.5,658.8 L1835.5,652.2 L1837.5,647.0 L1839.5,643.9 L1841.5,641.6 L1843.5,640.2 L1845.5,640.1 L1847.5,641.5 L1849.5,643.7 L1851.5,647.0 L1853.5,653.1 L1855.5,660.8 L1857.5,669.2 L1859.5,679.2 L1861.5,689.9 L1863.5,700.2 L1865.5,710.8 L1867.5,721.3 L1869.5,731.5 L1871.5,741.3 L1873.5,750.9 L1875.5,760.3 L1877.5,769.9 L1879.5,779.8 L1881.5,789.6 L1883.5,798.9 L1885.5,807.6 L1887.5,815.7 L1889.5,823.6 L1891.5,831.3 L1893.5,839.3 L1895.5,847.4 L1897.5,855.7 L1899.5,863.7 L1901.5,871.3 L1903.5,878.5 L1905.5,885.3 L1907.5,891.9 L1909.5,898.3 L1911.5,904.6 L1913.5,910.9 L1915.5,917.1 L1917.5,923.0 L1919.5,928.4 L1921.5,933.4 L1923.5,938.1 L1925.5,942.5 L1927.5,947.1 L1929.5,952.0 L1931.5,957.4 L1933.5,962.5 L1935.5,966.3 L1937.5,969.0 L1939.5,971.2 L1941.5,972.9 L1943.5,974.0 L1945.5,974.7 L1947.5,975.2 L1949.5,975.7 L1951.5,976.1 L1953.5,976.5 L1955.5,976.8 L1957.5,977.1 L1959.5,977.3 L1961.5,977.5 L1963.5,977.7 L1965.5,978.0 L1967.5,978.3 L1969.5,978.8 L1971.5,979.4 L1973.5,979.9 L1975.5,980.5 L1977.5,980.9 L1979.5,981.3 L1981.5,981.7 L1983.5,982.1 L1985.5,982.3 L1987.5,982.5 L1989.5,982.4 L1991.5,981.3 L1993.5,979.5 L1995.5,977.0 L1997.5,971.2 L1999.5,961.0 L2001.5,949.3 L2003.5,935.2 L2005.5,921.9 L2007.5,908.9 L2009.5,899.8 L2011.5,893.4 L2013.5,889.9 L2015.5,888.4 L2017.5,887.7 L2019.5,888.1 L2021.5,889.3 L2023.5,890.6 L2025.5,891.7 L2027.5,892.4 L2029.5,893.1 L2031.5,893.9 L2033.5,895.3 L2035.5,897.4 L2037.5,900.4 L2039.5,904.2 L2041.5,909.9 L2043.5,918.4 L2045.5,927.6 L2047.5,937.0 L2049.5,947.1 L2051.5,957.5 L2053.5,968.4 L2055.5,979.7 L2057.5,990.5 L2059.5,1001.1 L2061.5,1011.2 L2063.5,1020.3 L2065.5,1028.2 L2067.5,1035.5 L2069.5,1042.2 L2071.5,1048.4 L2073.5,1054.3 L2075.5,1059.8 L2077.5,1064.9 L2079.5,1069.3 L2081.5,1073.2 L2083.5,1076.6 L2085.5,1079.8 L2087.5,1083.0 L2089.5,1086.4 L2091.5,1090.3 L2093.5,1094.6 L2095.5,1098.8 L2097.5,1102.7 L2099.5,1106.0 L2101.5,1108.9 L2103.5,1111.6 L2105.5,1114.1 L2107.5,1116.3 L2109.5,1118.4 L2111.5,1120.3 L2113.5,1122.0 L2115.5,1123.7 L2117.5,1125.2 L2119.5,1126.7 L2121.5,1128.3 L2123.5,1130.0 L2125.5,1131.5 L2127.5,1132.8 L2129.5,1133.6 L2131.5,1133.7 L2133.5,1133.5 L2135.5,1133.2 L2137.5,1132.7 L2139.5,1132.2 L2141.5,1131.4 L2143.5,1130.2 L2145.5,1128.9 L2147.5,1128.0 L2149.5,1127.7 L2151.5,1127.6 L2153.5,1127.4 L2155.5,1127.3 L2157.5,1127.3 L2159.5,1127.2 L2160.0,1127.2" fill="none" stroke="#ff00ff" stroke-width="13.7" stroke-linejoin="round" stroke-linecap="square"/>
<path d="M157.5,1614.9 L159.5,1612.9 L161.5,1611.1 L163.5,1609.3 L165.5,1607.7 L167.5,1606.3 L169.5,1605.2 L171.5,1604.3 L173.5,1603.8 L175.5,1603.6 L177.5,1603.7 L179.5,1603.7 L181.5,1603.8 L183.5,1603.9 L185.5,1604.0 L187.5,1604.2 L189.5,1604.4 L191.5,1604.7 L193.5,1605.0 L195.5,1605.9 L197.5,1608.9 L199.5,1612.7 L201.5,1615.3 L203.5,1616.5 L205.5,1617.5 L207.5,1618.2 L209.5,1618.3 L211.5,1618.3 L213.5,1618.3 L215.5,1618.3 L217.5,1618.3 L219.5,1618.3 L221.5,1618.4 L223.5,1619.1 L225.5,1620.3 L227.5,1621.5 L229.5,1622.5 L231.5,1622.7 L233.5,1622.6 L235.5,1622.3 L237.5,1621.9 L239.5,1621.3 L241.5,1620.7 L243.5,1620.0 L245.5,1619.3 L247.5,1618.5 L249.5,1617.7 L251.5,1616.9 L253.5,1616.0 L255.5,1615.0 L257.5,1613.9 L259.5,1612.7 L261.5,1611.4 L263.5,1610.0 L265.5,1608.6 L267.5,1607.0 L269.5,1605.0 L271.5,1602.7 L273.5,1600.4 L275.5,1598.3 L277.5,1596.6 L279.5,1595.2 L281.5,1593.9 L283.5,1592.6 L285.5,1591.5 L287.5,1590.7 L289.5,1590.4 L291.5,1590.6 L293.5,1591.3 L295.5,1592.2 L297.5,1593.4 L299.5,1594.6 L301.5,1596.0 L303.5,1598.0 L305.5,1600.0 L307.5,1601.6 L309.5,1602.3 L311.5,1602.7 L313.5,1602.9 L315.5,1603.2 L317.5,1603.4 L319.5,1603.5 L321.5,1603.6 L323.5,1603.7 L325.5,1603.8 L327.5,1603.8 L329.5,1603.9 L331.5,1603.9 L333.5,1603.9 L335.5,1604.0 L337.5,1604.0 L339.5,1604.1 L341.5,1604.2 L343.5,1604.4 L345.5,1605.1 L347.5,1606.3 L349.5,1607.7 L351.5,1609.2 L353.5,1610.5 L355.5,1611.6 L357.5,1612.8 L359.5,1614.0 L361.5,1615.1 L363.5,1616.0 L365.5,1616.6 L367.5,1616.8 L369.5,1616.6 L371.5,1616.1 L373.5,1615.3 L375.5,1614.2 L377.5,1613.0 L379.5,1611.7 L381.5,1610.4 L383.5,1608.7 L385.5,1606.6 L387.5,1604.3 L389.5,1601.7 L391.5,1599.0 L393.5,1596.3 L395.5,1593.6 L397.5,1590.7 L399.5,1587.6 L401.5,1584.4 L403.5,1581.1 L405.5,1577.9 L407.5,1574.8 L409.5,1572.0 L411.5,1569.4 L413.5,1566.8 L415.5,1564.2 L417.5,1561.3 L419.5,1558.0 L421.5,1553.9 L423.5,1549.0 L425.5,1543.3 L427.5,1537.1 L429.5,1530.6 L431.5,1523.4 L433.5,1515.2 L435.5,1506.8 L437.5,1499.1 L439.5,1492.7 L441.5,1486.7 L443.5,1481.1 L445.5,1476.7 L447.5,1474.1 L449.5,1472.3 L451.5,1470.8 L453.5,1470.1 L455.5,1470.3 L457.5,1471.2 L459.5,1472.7 L461.5,1474.6 L463.5,1476.6 L465.5,1479.4 L467.5,1483.0 L469.5,1487.2 L471.5,1491.6 L473.5,1496.5 L475.5,1502.1 L477.5,1508.3 L479.5,1515.0 L481.5,1522.2 L483.5,1530.7 L485.5,1539.8 L487.5,1549.0 L489.5,1557.4 L491.5,1565.5 L493.5,1573.5 L495.5,1580.9 L497.5,1587.3 L499.5,1592.4 L501.5,1597.0 L503.5,1601.0 L505.5,1604.5 L507.5,1607.3 L509.5,1610.0 L511.5,1612.5 L513.5,1614.8 L515.5,1616.6 L517.5,1617.9 L519.5,1618.5 L521.5,1619.0 L523.5,1619.4 L525.5,1619.7 L527.5,1619.8 L529.5,1619.5 L531.5,1618.6 L533.5,1617.4 L535.5,1616.0 L537.5,1614.3 L539.5,1611.7 L541.5,1608.4 L543.5,1604.5 L545.5,1600.3 L547.5,1596.0 L549.5,1591.6 L551.5,1586.9 L553.5,1581.7 L555.5,1575.7 L557.5,1568.8 L559.5,1560.2 L561.5,1549.4 L563.5,1537.0 L565.5,1523.8 L567.5,1510.1 L569.5,1494.1 L571.5,1477.6 L573.5,1463.4 L575.5,1450.0 L577.5,1439.3 L579.5,1434.3 L581.5,1431.1 L583.5,1429.3 L585.5,1429.4 L587.5,1432.2 L589.5,1436.6 L591.5,1441.7 L593.5,1449.0 L595.5,1457.7 L597.5,1466.8 L599.5,1475.7 L601.5,1485.3 L603.5,1495.1 L605.5,1504.4 L607.5,1512.9 L609.5,1521.2 L611.5,1529.1 L613.5,1536.1 L615.5,1541.9 L617.5,1546.7 L619.5,1551.1 L621.5,1554.8 L623.5,1557.4 L625.5,1558.9 L627.5,1560.2 L629.5,1561.3 L631.5,1562.0 L633.5,1562.5 L635.5,1562.5 L637.5,1562.0 L639.5,1561.0 L641.5,1559.7 L643.5,1558.1 L645.5,1555.0 L647.5,1549.9 L649.5,1543.9 L651.5,1538.0 L653.5,1532.8 L655.5,1527.1 L657.5,1521.6 L659.5,1516.8 L661.5,1513.4 L663.5,1510.5 L665.5,1508.3 L667.5,1507.4 L669.5,1507.9 L671.5,1509.3 L673.5,1511.4 L675.5,1513.8 L677.5,1517.3 L679.5,1522.5 L681.5,1528.5 L683.5,1534.5 L685.5,1541.5 L687.5,1549.0 L689.5,1556.2 L691.5,1561.8 L693.5,1565.8 L695.5,1569.6 L697.5,1573.1 L699.5,1576.3 L701.5,1578.9 L703.5,1580.9 L705.5,1582.2 L707.5,1582.8 L709.5,1583.2 L711.5,1583.5 L713.5,1583.8 L715.5,1583.9 L717.5,1583.9 L719.5,1583.6 L721.5,1583.0 L723.5,1582.2 L725.5,1581.3 L727.5,1580.5 L729.5,1579.5 L731.5,1578.3 L733.5,1577.1 L735.5,1576.0 L737.5,1575.2 L739.5,1574.7 L741.5,1574.4 L743.5,1574.1 L745.5,1573.9 L747.5,1573.7 L749.5,1573.7 L751.5,1573.8 L753.5,1574.2 L755.5,1574.6 L757.5,1575.2 L759.5,1575.8 L761.5,1577.1 L763.5,1579.2 L765.5,1581.7 L767.5,1584.4 L769.5,1588.0 L771.5,1591.9 L773.5,1595.6 L775.5,1598.7 L777.5,1601.6 L779.5,1604.3 L781.5,1606.7 L783.5,1608.8 L785.5,1611.0 L787.5,1613.0 L789.5,1614.6 L791.5,1615.4 L793.5,1615.6 L795.5,1615.8 L797.5,1615.9 L799.5,1616.0 L801.5,1615.9 L803.5,1615.7 L805.5,1615.3 L807.5,1614.7 L809.5,1614.0 L811.5,1613.2 L813.5,1612.4 L815.5,1611.4 L817.5,1610.1 L819.5,1608.5 L821.5,1606.6 L823.5,1604.4 L825.5,1601.4 L827.5,1597.0 L829.5,1592.0 L831.5,1587.3 L833.5,1582.8 L835.5,1578.3 L837.5,1573.5 L839.5,1568.7 L841.5,1568.2 L843.5,1568.0 L845.5,1567.9 L847.5,1567.9 L849.5,1567.8 L851.5,1567.9 L853.5,1568.1 L855.5,1568.5 L857.5,1569.0 L859.5,1569.4 L861.5,1569.8 L863.5,1570.0 L865.5,1570.2 L867.5,1570.3 L869.5,1570.6 L871.5,1570.9 L873.5,1571.9 L875.5,1573.4 L877.5,1575.0 L879.5,1577.5 L881.5,1580.3 L883.5,1582.6 L885.5,1584.3 L887.5,1585.7 L889.5,1586.8 L891.5,1587.5 L893.5,1587.9 L895.5,1588.3 L897.5,1588.6 L899.5,1588.8 L901.5,1588.9 L903.5,1589.0 L905.5,1589.0 L907.5,1589.0 L909.5,1589.0 L911.5,1589.0 L913.5,1588.7 L915.5,1587.7 L917.5,1586.3 L919.5,1584.4 L921.5,1582.4 L923.5,1580.3 L925.5,1578.1 L927.5,1575.6 L929.5,1572.8 L931.5,1569.6 L933.5,1566.1 L935.5,1562.3 L937.5,1557.6 L939.5,1552.0 L941.5,1545.7 L943.5,1539.3 L945.5,1533.2 L947.5,1527.7 L949.5,1522.6 L951.5,1517.8 L953.5,1513.0 L955.5,1508.0 L957.5,1502.6 L959.5,1496.6 L961.5,1489.4 L963.5,1481.6 L965.5,1474.2 L967.5,1467.4 L969.5,1460.9 L971.5,1457.8 L973.5,1456.4 L975.5,1456.0 L977.5,1457.3 L979.5,1459.6 L981.5,1462.5 L983.5,1467.6 L985.5,1473.7 L987.5,1478.9 L989.5,1483.5 L991.5,1487.9 L993.5,1492.1 L995.5,1496.1 L997.5,1500.0 L999.5,1503.8 L1001.5,1507.4 L1003.5,1510.7 L1005.5,1513.7 L1007.5,1516.3 L1009.5,1518.7 L1011.5,1521.0 L1013.5,1523.1 L1015.5,1525.3 L1017.5,1527.5 L1019.5,1529.7 L1021.5,1531.7 L1023.5,1533.7 L1025.5,1535.4 L1027.5,1537.0 L1029.5,1538.7 L1031.5,1540.3 L1033.5,1541.8 L1035.5,1542.9 L1037.5,1543.4 L1039.5,1543.2 L1041.5,1542.2 L1043.5,1541.0 L1045.5,1540.1 L1047.5,1539.1 L1049.5,1538.1 L1051.5,1537.1 L1053.5,1536.5 L1055.5,1536.1 L1057.5,1536.2 L1059.5,1536.4 L1061.5,1536.7 L1063.5,1537.2 L1065.5,1537.8 L1067.5,1539.6 L1069.5,1542.6 L1071.5,1546.2 L1073.5,1550.3 L1075.5,1556.1 L1077.5,1562.6 L1079.5,1569.3 L1081.5,1576.6 L1083.5,1583.5 L1085.5,1588.7 L1087.5,1593.3 L1089.5,1597.2 L1091.5,1600.3 L1093.5,1602.5 L1095.5,1604.5 L1097.5,1606.2 L1099.5,1607.6 L1101.5,1608.9 L1103.5,1609.9 L1105.5,1610.9 L1107.5,1611.9 L1109.5,1612.7 L1111.5,1613.4 L1113.5,1613.8 L1115.5,1614.0 L1117.5,1614.2 L1119.5,1614.3 L1121.5,1614.5 L1123.5,1614.6 L1125.5,1614.7 L1127.5,1614.7 L1129.5,1614.8 L1131.5,1614.8 L1133.5,1614.8 L1135.5,1614.6 L1137.5,1614.3 L1139.5,1614.0 L1141.5,1613.6 L1143.5,1613.3 L1145.5,1612.9 L1147.5,1612.6 L1149.5,1612.5 L1151.5,1612.3 L1153.5,1612.3 L1155.5,1612.2 L1157.5,1612.2 L1159.5,1612.1 L1161.5,1612.0 L1163.5,1611.9 L1165.5,1611.7 L1167.5,1611.3 L1169.5,1610.7 L1171.5,1610.0 L1173.5,1609.2 L1175.5,1608.3 L1177.5,1607.2 L1179.5,1605.8 L1181.5,1604.1 L1183.5,1602.8 L1185.5,1602.0 L1187.5,1601.4 L1189.5,1601.0 L1191.5,1600.7 L1193.5,1600.9 L1195.5,1602.0 L1197.5,1603.5 L1199.5,1605.1 L1201.5,1606.7 L1203.5,1608.8 L1205.5,1610.8 L1207.5,1612.1 L1209.5,1612.7 L1211.5,1613.1 L1213.5,1613.4 L1215.5,1613.7 L1217.5,1613.8 L1219.5,1613.9 L1221.5,1613.9 L1223.5,1613.8 L1225.5,1613.6 L1227.5,1613.4 L1229.5,1613.1 L1231.5,1612.9 L1233.5,1612.7 L1235.5,1612.5 L1237.5,1612.4 L1239.5,1612.6 L1241.5,1613.0 L1243.5,1613.5 L1245.5,1613.9 L1247.5,1613.9 L1249.5,1613.9 L1251.5,1613.8 L1253.5,1613.8 L1255.5,1613.7 L1257.5,1613.6 L1259.5,1613.5 L1261.5,1613.3 L1263.5,1613.2 L1265.5,1613.0 L1267.5,1612.8 L1269.5,1612.6 L1271.5,1612.4 L1273.5,1612.2 L1275.5,1611.9 L1277.5,1611.6 L1279.5,1611.1 L1281.5,1610.6 L1283.5,1610.0 L1285.5,1609.4 L1287.5,1608.8 L1289.5,1608.1 L1291.5,1607.6 L1293.5,1607.0 L1295.5,1606.4 L1297.5,1605.9 L1299.5,1605.3 L1301.5,1604.6 L1303.5,1604.0 L1305.5,1603.4 L1307.5,1602.8 L1309.5,1602.3 L1311.5,1601.8 L1313.5,1601.3 L1315.5,1600.8 L1317.5,1600.4 L1319.5,1600.1 L1321.5,1599.8 L1323.5,1599.4 L1325.5,1599.0 L1327.5,1598.5 L1329.5,1597.9 L1331.5,1597.1 L1333.5,1596.1 L1335.5,1594.9 L1337.5,1593.6 L1339.5,1592.2 L1341.5,1590.7 L1343.5,1589.2 L1345.5,1587.7 L1347.5,1586.0 L1349.5,1584.2 L1351.5,1582.3 L1353.5,1580.2 L1355.5,1577.9 L1357.5,1575.4 L1359.5,1572.5 L1361.5,1569.0 L1363.5,1565.0 L1365.5,1560.7 L1367.5,1556.3 L1369.5,1551.7 L1371.5,1547.0 L1373.5,1541.8 L1375.5,1536.5 L1377.5,1531.1 L1379.5,1526.0 L1381.5,1521.2 L1383.5,1516.7 L1385.5,1512.3 L1387.5,1507.9 L1389.5,1503.4 L1391.5,1498.7 L1393.5,1493.8 L1395.5,1488.8 L1397.5,1483.5 L1399.5,1478.0 L1401.5,1471.9 L1403.5,1465.1 L1405.5,1457.7 L1407.5,1449.7 L1409.5,1441.5 L1411.5,1432.8 L1413.5,1423.7 L1415.5,1413.9 L1417.5,1403.6 L1419.5,1392.6 L1421.5,1380.7 L1423.5,1368.3 L1425.5,1355.6 L1427.5,1342.4 L1429.5,1328.8 L1431.5,1314.5 L1433.5,1299.3 L1435.5,1283.5 L1437.5,1267.5 L1439.5,1252.2 L1441.5,1237.4 L1443.5,1222.3 L1445.5,1206.0 L1447.5,1186.0 L1449.5,1165.0 L1451.5,1149.6 L1453.5,1138.4 L1455.5,1132.7 L1457.5,1129.7 L1459.5,1128.7 L1461.5,1131.5 L1463.5,1137.9 L1465.5,1157.6 L1467.5,1186.4 L1469.5,1220.2 L1471.5,1257.3 L1473.5,1288.0 L1475.5,1313.5 L1477.5,1335.6 L1479.5,1355.2 L1481.5,1373.4 L1483.5,1390.3 L1485.5,1408.3 L1487.5,1428.5 L1489.5,1448.6 L1491.5,1468.2 L1493.5,1486.1 L1495.5,1501.5 L1497.5,1514.2 L1499.5,1522.6 L1501.5,1528.7 L1503.5,1531.1 L1505.5,1532.4 L1507.5,1533.1 L1509.5,1533.0 L1511.5,1532.0 L1513.5,1530.3 L1515.5,1528.2 L1517.5,1525.0 L1519.5,1520.6 L1521.5,1516.0 L1523.5,1511.5 L1525.5,1506.8 L1527.5,1502.0 L1529.5,1497.3 L1531.5,1492.8 L1533.5,1488.4 L1535.5,1484.1 L1537.5,1480.1 L1539.5,1476.6 L1541.5,1473.7 L1543.5,1470.9 L1545.5,1468.5 L1547.5,1466.5 L1549.5,1465.2 L1551.5,1464.3 L1553.5,1463.5 L1555.5,1462.8 L1557.5,1462.2 L1559.5,1461.6 L1561.5,1460.9 L1563.5,1460.0 L1565.5,1459.2 L1567.5,1458.5 L1569.5,1458.3 L1571.5,1458.9 L1573.5,1460.1 L1575.5,1461.8 L1577.5,1463.6 L1579.5,1465.5 L1581.5,1467.8 L1583.5,1470.3 L1585.5,1472.8 L1587.5,1475.1 L1589.5,1477.2 L1591.5,1479.3 L1593.5,1481.3 L1595.5,1483.1 L1597.5,1484.8 L1599.5,1486.6 L1601.5,1488.1 L1603.5,1489.0 L1605.5,1489.1 L1607.5,1488.5 L1609.5,1487.5 L1611.5,1486.1 L1613.5,1484.6 L1615.5,1482.5 L1617.5,1479.6 L1619.5,1476.0 L1621.5,1471.6 L1623.5,1466.1 L1625.5,1458.2 L1627.5,1449.0 L1629.5,1439.4 L1631.5,1428.5 L1633.5,1416.7 L1635.5,1403.7 L1637.5,1389.3 L1639.5,1375.0 L1641.5,1361.6 L1643.5,1348.6 L1645.5,1335.9 L1647.5,1323.3 L1649.5,1311.0 L1651.5,1299.8 L1653.5,1290.1 L1655.5,1281.2 L1657.5,1272.9 L1659.5,1264.8 L1661.5,1257.0 L1663.5,1250.3 L1665.5,1245.1 L1667.5,1240.7 L1669.5,1237.0 L1671.5,1234.3 L1673.5,1232.5 L1675.5,1230.9 L1677.5,1229.8 L1679.5,1229.4 L1681.5,1229.8 L1683.5,1231.0 L1685.5,1232.6 L1687.5,1234.7 L1689.5,1238.8 L1691.5,1244.5 L1693.5,1251.0 L1695.5,1258.1 L1697.5,1267.0 L1699.5,1275.8 L1701.5,1282.8 L1703.5,1288.9 L1705.5,1294.3 L1707.5,1298.5 L1709.5,1301.3 L1711.5,1303.4 L1713.5,1305.1 L1715.5,1306.7 L1717.5,1308.7 L1719.5,1311.2 L1721.5,1314.3 L1723.5,1317.7 L1725.5,1321.3 L1727.5,1325.0 L1729.5,1328.5 L1731.5,1332.1 L1733.5,1336.1 L1735.5,1340.8 L1737.5,1347.0 L1739.5,1355.3 L1741.5,1364.2 L1743.5,1372.1 L1745.5,1378.9 L1747.5,1385.4 L1749.5,1391.5 L1751.5,1397.4 L1753.5,1403.1 L1755.5,1408.7 L1757.5,1413.9 L1759.5,1418.4 L1761.5,1422.2 L1763.5,1425.4 L1765.5,1428.4 L1767.5,1431.7 L1769.5,1435.5 L1771.5,1440.3 L1773.5,1446.0 L1775.5,1452.0 L1777.5,1457.7 L1779.5,1463.4 L1781.5,1469.1 L1783.5,1474.5 L1785.5,1479.2 L1787.5,1483.2 L1789.5,1486.7 L1791.5,1489.9 L1793.5,1492.9 L1795.5,1495.9 L1797.5,1499.1 L1799.5,1502.3 L1801.5,1504.7 L1803.5,1505.8 L1805.5,1506.0 L1807.5,1506.1 L1809.5,1506.2 L1811.5,1506.3 L1813.5,1506.3 L1815.5,1506.3 L1817.5,1506.2 L1819.5,1505.9 L1821.5,1505.6 L1823.5,1505.3 L1825.5,1504.9 L1827.5,1504.2 L1829.5,1503.1 L1831.5,1501.8 L1833.5,1500.3 L1835.5,1498.8 L1837.5,1497.3 L1839.5,1496.0 L1841.5,1494.5 L1843.5,1493.0 L1845.5,1491.5 L1847.5,1489.9 L1849.5,1488.3 L1851.5,1486.8 L1853.5,1485.3 L1855.5,1483.7 L1857.5,1481.9 L1859.5,1479.6 L1861.5,1476.5 L1863.5,1472.7 L1865.5,1468.3 L1867.5,1463.6 L1869.5,1458.7 L1871.5,1453.1 L1873.5,1447.3 L1875.5,1441.4 L1877.5,1435.6 L1879.5,1429.6 L1881.5,1423.8 L1883.5,1418.1 L1885.5,1412.9 L1887.5,1407.8 L1889.5,1402.8 L1891.5,1397.9 L1893.5,1392.8 L1895.5,1387.7 L1897.5,1383.0 L1899.5,1378.9 L1901.5,1375.0 L1903.5,1372.8 L1905.5,1372.2 L1907.5,1371.9 L1909.5,1373.3 L1911.5,1376.6 L1913.5,1381.3 L1915.5,1387.9 L1917.5,1394.6 L1919.5,1400.6 L1921.5,1406.6 L1923.5,1412.6 L1925.5,1419.0 L1927.5,1426.0 L1929.5,1433.2 L1931.5,1439.9 L1933.5,1446.2 L1935.5,1452.2 L1937.5,1457.8 L1939.5,1463.5 L1941.5,1468.7 L1943.5,1471.9 L1945.5,1474.3 L1947.5,1476.4 L1949.5,1477.8 L1951.5,1478.5 L1953.5,1478.2 L1955.5,1477.4 L1957.5,1476.3 L1959.5,1474.8 L1961.5,1473.1 L1963.5,1470.5 L1965.5,1467.0 L1967.5,1463.1 L1969.5,1459.0 L1971.5,1454.4 L1973.5,1449.3 L1975.5,1443.7 L1977.5,1437.9 L1979.5,1432.1 L1981.5,1426.2 L1983.5,1420.0 L1985.5,1413.4 L1987.5,1406.3 L1989.5,1398.1 L1991.5,1389.0 L1993.5,1379.7 L1995.5,1370.6 L1997.5,1361.6 L1999.5,1352.7 L2001.5,1344.0 L2003.5,1335.6 L2005.5,1327.3 L2007.5,1319.5 L2009.5,1312.8 L2011.5,1306.5 L2013.5,1301.7 L2015.5,1299.1 L2017.5,1297.1 L2019.5,1295.8 L2021.5,1295.7 L2023.5,1297.2 L2025.5,1299.8 L2027.5,1303.0 L2029.5,1306.7 L2031.5,1312.0 L2033.5,1318.2 L2035.5,1324.8 L2037.5,1332.4 L2039.5,1340.9 L2041.5,1349.3 L2043.5,1356.4 L2045.5,1362.8 L2047.5,1368.6 L2049.5,1373.4 L2051.5,1376.8 L2053.5,1380.2 L2055.5,1384.8 L2057.5,1393.4 L2059.5,1406.7 L2061.5,1421.2 L2063.5,1437.6 L2065.5,1454.1 L2067.5,1470.8 L2069.5,1485.3 L2071.5,1497.6 L2073.5,1508.3 L2075.5,1517.3 L2077.5,1525.4 L2079.5,1532.1 L2081.5,1537.1 L2083.5,1540.7 L2085.5,1543.8 L2087.5,1546.5 L2089.5,1549.1 L2091.5,1551.2 L2093.5,1553.4 L2095.5,1556.2 L2097.5,1560.7 L2099.5,1566.8 L2101.5,1573.1 L2103.5,1578.2 L2105.5,1582.7 L2107.5,1586.9 L2109.5,1590.7 L2111.5,1594.1 L2113.5,1597.3 L2115.5,1600.3 L2117.5,1603.1 L2119.5,1605.5 L2121.5,1607.3 L2123.5,1608.6 L2125.5,1609.7 L2127.5,1610.8 L2129.5,1611.6 L2131.5,1612.2 L2133.5,1612.6 L2135.5,1612.8 L2137.5,1612.9 L2139.5,1613.0 L2141.5,1613.1 L2143.5,1613.2 L2145.5,1613.3 L2147.5,1613.4 L2149.5,1613.6 L2151.5,1613.8 L2153.5,1614.0 L2155.5,1614.3 L2157.5,1614.6 L2159.5,1614.9 L2160.0,1614.9" fill="none" stroke="#505050" stroke-width="13.7" stroke-linejoin="round" stroke-linecap="square"/>
<path d="M157.5,1616.1 L159.5,1612.6 L161.5,1609.4 L163.5,1606.7 L165.5,1604.2 L167.5,1602.1 L169.5,1600.8 L171.5,1600.1 L173.5,1599.6 L175.5,1599.4 L177.5,1599.8 L179.5,1600.6 L181.5,1601.7 L183.5,1603.0 L185.5,1605.1 L187.5,1607.4 L189.5,1609.4 L191.5,1610.7 L193.5,1611.8 L195.5,1612.8 L197.5,1613.6 L199.5,1614.4 L201.5,1615.2 L203.5,1615.9 L205.5,1616.5 L207.5,1616.9 L209.5,1617.0 L211.5,1616.9 L213.5,1616.6 L215.5,1616.2 L217.5,1615.7 L219.5,1614.8 L221.5,1613.1 L223.5,1611.2 L225.5,1609.2 L227.5,1607.5 L229.5,1605.8 L231.5,1604.2 L233.5,1602.6 L235.5,1601.1 L237.5,1599.4 L239.5,1598.5 L241.5,1598.8 L243.5,1599.7 L245.5,1600.8 L247.5,1601.6 L249.5,1602.3 L251.5,1603.0 L253.5,1603.5 L255.5,1603.8 L257.5,1603.6 L259.5,1603.0 L261.5,1602.2 L263.5,1601.4 L265.5,1600.7 L267.5,1599.9 L269.5,1598.8 L271.5,1596.8 L273.5,1591.8 L275.5,1583.7 L277.5,1566.7 L279.5,1549.2 L281.5,1536.4 L283.5,1529.5 L285.5,1527.1 L287.5,1528.1 L289.5,1533.2 L291.5,1546.8 L293.5,1563.1 L295.5,1577.3 L297.5,1586.6 L299.5,1590.3 L301.5,1591.9 L303.5,1593.0 L305.5,1594.2 L307.5,1595.4 L309.5,1596.6 L311.5,1597.8 L313.5,1599.3 L315.5,1601.2 L317.5,1602.7 L319.5,1603.3 L321.5,1603.4 L323.5,1603.5 L325.5,1603.5 L327.5,1603.6 L329.5,1603.7 L331.5,1603.9 L333.5,1604.2 L335.5,1604.6 L337.5,1605.2 L339.5,1605.8 L341.5,1606.4 L343.5,1607.0 L345.5,1607.6 L347.5,1608.3 L349.5,1609.0 L351.5,1609.7 L353.5,1610.8 L355.5,1612.0 L357.5,1613.1 L359.5,1613.9 L361.5,1614.3 L363.5,1614.6 L365.5,1614.8 L367.5,1614.9 L369.5,1614.9 L371.5,1614.7 L373.5,1614.2 L375.5,1613.5 L377.5,1612.7 L379.5,1611.6 L381.5,1609.7 L383.5,1607.5 L385.5,1605.1 L387.5,1602.7 L389.5,1600.0 L391.5,1597.2 L393.5,1594.4 L395.5,1591.9 L397.5,1589.8 L399.5,1587.8 L401.5,1585.9 L403.5,1583.9 L405.5,1582.0 L407.5,1580.0 L409.5,1578.1 L411.5,1576.1 L413.5,1573.9 L415.5,1571.4 L417.5,1568.8 L419.5,1566.0 L421.5,1563.1 L423.5,1560.2 L425.5,1557.2 L427.5,1554.0 L429.5,1550.3 L431.5,1546.0 L433.5,1540.5 L435.5,1534.0 L437.5,1526.1 L439.5,1516.0 L441.5,1505.3 L443.5,1495.5 L445.5,1485.9 L447.5,1477.3 L449.5,1470.2 L451.5,1463.8 L453.5,1459.3 L455.5,1457.1 L457.5,1455.8 L459.5,1455.8 L461.5,1457.6 L463.5,1460.3 L465.5,1463.1 L467.5,1466.6 L469.5,1470.5 L471.5,1474.3 L473.5,1477.4 L475.5,1480.2 L477.5,1483.3 L479.5,1487.5 L481.5,1493.5 L483.5,1501.1 L485.5,1509.3 L487.5,1517.4 L489.5,1526.2 L491.5,1535.3 L493.5,1544.2 L495.5,1552.6 L497.5,1560.8 L499.5,1568.7 L501.5,1576.0 L503.5,1583.0 L505.5,1589.7 L507.5,1595.6 L509.5,1600.6 L511.5,1605.1 L513.5,1609.1 L515.5,1612.3 L517.5,1614.9 L519.5,1617.3 L521.5,1619.1 L523.5,1620.1 L525.5,1620.7 L527.5,1621.1 L529.5,1621.4 L531.5,1621.3 L533.5,1620.8 L535.5,1619.8 L537.5,1618.6 L539.5,1616.8 L541.5,1613.7 L543.5,1609.9 L545.5,1605.9 L547.5,1601.4 L549.5,1596.3 L551.5,1590.7 L553.5,1584.5 L555.5,1577.8 L557.5,1570.3 L559.5,1561.9 L561.5,1552.6 L563.5,1541.4 L565.5,1528.9 L567.5,1516.2 L569.5,1502.8 L571.5,1489.5 L573.5,1477.6 L575.5,1466.7 L577.5,1456.9 L579.5,1448.6 L581.5,1440.8 L583.5,1434.6 L585.5,1430.9 L587.5,1428.3 L589.5,1427.1 L591.5,1427.8 L593.5,1430.0 L595.5,1432.9 L597.5,1438.4 L599.5,1445.9 L601.5,1453.6 L603.5,1462.3 L605.5,1471.7 L607.5,1481.3 L609.5,1491.4 L611.5,1501.6 L613.5,1511.2 L615.5,1520.8 L617.5,1529.6 L619.5,1537.0 L621.5,1543.7 L623.5,1549.2 L625.5,1553.1 L627.5,1556.5 L629.5,1558.8 L631.5,1559.6 L633.5,1560.1 L635.5,1560.3 L637.5,1560.1 L639.5,1558.9 L641.5,1557.2 L643.5,1554.9 L645.5,1551.1 L647.5,1546.4 L649.5,1541.7 L651.5,1536.3 L653.5,1530.4 L655.5,1524.6 L657.5,1519.4 L659.5,1514.2 L661.5,1509.8 L663.5,1507.3 L665.5,1505.3 L667.5,1504.1 L669.5,1504.0 L671.5,1504.0 L673.5,1504.0 L675.5,1504.0 L677.5,1504.1 L679.5,1504.6 L681.5,1505.4 L683.5,1507.9 L685.5,1512.9 L687.5,1518.8 L689.5,1526.0 L691.5,1534.6 L693.5,1542.8 L695.5,1550.7 L697.5,1558.0 L699.5,1563.3 L701.5,1567.0 L703.5,1569.9 L705.5,1572.0 L707.5,1573.8 L709.5,1575.4 L711.5,1576.6 L713.5,1577.3 L715.5,1577.6 L717.5,1577.9 L719.5,1578.1 L721.5,1578.2 L723.5,1578.3 L725.5,1578.1 L727.5,1577.6 L729.5,1576.8 L731.5,1575.8 L733.5,1574.8 L735.5,1573.8 L737.5,1572.5 L739.5,1571.2 L741.5,1569.9 L743.5,1569.0 L745.5,1568.2 L747.5,1567.6 L749.5,1567.2 L751.5,1567.2 L753.5,1567.8 L755.5,1568.7 L757.5,1569.9 L759.5,1571.3 L761.5,1573.3 L763.5,1575.5 L765.5,1577.8 L767.5,1579.7 L769.5,1581.3 L771.5,1582.8 L773.5,1584.4 L775.5,1586.2 L777.5,1588.4 L779.5,1591.1 L781.5,1594.3 L783.5,1597.5 L785.5,1600.6 L787.5,1603.6 L789.5,1606.9 L791.5,1609.8 L793.5,1612.0 L795.5,1613.1 L797.5,1613.9 L799.5,1614.6 L801.5,1615.2 L803.5,1615.5 L805.5,1615.5 L807.5,1615.3 L809.5,1614.9 L811.5,1614.4 L813.5,1613.7 L815.5,1613.0 L817.5,1612.0 L819.5,1610.7 L821.5,1609.1 L823.5,1607.2 L825.5,1605.0 L827.5,1602.1 L829.5,1598.4 L831.5,1594.4 L833.5,1590.3 L835.5,1585.6 L837.5,1580.8 L839.5,1576.7 L841.5,1573.5 L843.5,1570.5 L845.5,1568.1 L847.5,1567.1 L849.5,1566.8 L851.5,1566.6 L853.5,1566.4 L855.5,1566.3 L857.5,1566.1 L859.5,1566.0 L861.5,1565.9 L863.5,1565.8 L865.5,1565.5 L867.5,1564.3 L869.5,1562.7 L871.5,1561.9 L873.5,1561.5 L875.5,1561.3 L877.5,1561.4 L879.5,1562.7 L881.5,1564.6 L883.5,1566.6 L885.5,1569.1 L887.5,1571.8 L889.5,1574.1 L891.5,1575.8 L893.5,1577.3 L895.5,1578.6 L897.5,1579.7 L899.5,1580.7 L901.5,1581.4 L903.5,1582.1 L905.5,1582.7 L907.5,1583.2 L909.5,1583.9 L911.5,1584.5 L913.5,1584.7 L915.5,1584.2 L917.5,1583.0 L919.5,1581.4 L921.5,1579.5 L923.5,1576.8 L925.5,1573.3 L927.5,1569.5 L929.5,1565.7 L931.5,1561.9 L933.5,1558.0 L935.5,1554.0 L937.5,1549.8 L939.5,1545.4 L941.5,1540.8 L943.5,1536.1 L945.5,1531.3 L947.5,1526.6 L949.5,1522.1 L951.5,1517.7 L953.5,1513.1 L955.5,1508.1 L957.5,1502.3 L959.5,1495.9 L961.5,1489.2 L963.5,1482.7 L965.5,1476.0 L967.5,1469.7 L969.5,1465.2 L971.5,1462.0 L973.5,1459.6 L975.5,1458.2 L977.5,1457.4 L979.5,1457.0 L981.5,1457.7 L983.5,1459.4 L985.5,1461.7 L987.5,1466.3 L989.5,1472.7 L991.5,1478.5 L993.5,1483.7 L995.5,1488.8 L997.5,1493.3 L999.5,1496.9 L1001.5,1499.8 L1003.5,1502.5 L1005.5,1504.9 L1007.5,1507.2 L1009.5,1509.4 L1011.5,1511.4 L1013.5,1513.4 L1015.5,1515.3 L1017.5,1517.1 L1019.5,1518.9 L1021.5,1520.6 L1023.5,1522.3 L1025.5,1523.9 L1027.5,1525.7 L1029.5,1527.8 L1031.5,1530.5 L1033.5,1532.9 L1035.5,1534.5 L1037.5,1534.8 L1039.5,1534.6 L1041.5,1534.2 L1043.5,1533.8 L1045.5,1533.3 L1047.5,1532.7 L1049.5,1531.8 L1051.5,1531.2 L1053.5,1531.0 L1055.5,1531.4 L1057.5,1532.1 L1059.5,1533.0 L1061.5,1534.2 L1063.5,1536.2 L1065.5,1538.5 L1067.5,1540.7 L1069.5,1542.6 L1071.5,1544.3 L1073.5,1546.2 L1075.5,1548.5 L1077.5,1551.4 L1079.5,1555.3 L1081.5,1560.1 L1083.5,1565.3 L1085.5,1571.8 L1087.5,1579.4 L1089.5,1586.2 L1091.5,1592.0 L1093.5,1597.3 L1095.5,1601.1 L1097.5,1603.7 L1099.5,1605.8 L1101.5,1607.4 L1103.5,1608.6 L1105.5,1609.5 L1107.5,1610.3 L1109.5,1610.9 L1111.5,1611.5 L1113.5,1612.2 L1115.5,1613.1 L1117.5,1614.0 L1119.5,1614.8 L1121.5,1615.4 L1123.5,1615.5 L1125.5,1615.5 L1127.5,1615.3 L1129.5,1615.0 L1131.5,1614.7 L1133.5,1614.3 L1135.5,1614.0 L1137.5,1613.6 L1139.5,1613.1 L1141.5,1612.6 L1143.5,1612.1 L1145.5,1611.5 L1147.5,1610.9 L1149.5,1610.3 L1151.5,1609.5 L1153.5,1608.8 L1155.5,1608.1 L1157.5,1607.6 L1159.5,1607.1 L1161.5,1606.7 L1163.5,1606.4 L1165.5,1606.2 L1167.5,1605.8 L1169.5,1605.4 L1171.5,1604.9 L1173.5,1604.2 L1175.5,1603.3 L1177.5,1602.3 L1179.5,1601.3 L1181.5,1600.5 L1183.5,1599.6 L1185.5,1598.7 L1187.5,1597.9 L1189.5,1597.1 L1191.5,1596.6 L1193.5,1596.3 L1195.5,1596.0 L1197.5,1595.8 L1199.5,1595.7 L1201.5,1595.6 L1203.5,1595.7 L1205.5,1596.5 L1207.5,1597.7 L1209.5,1599.2 L1211.5,1600.9 L1213.5,1603.3 L1215.5,1605.5 L1217.5,1606.9 L1219.5,1607.7 L1221.5,1608.4 L1223.5,1608.8 L1225.5,1609.1 L1227.5,1609.0 L1229.5,1608.9 L1231.5,1608.7 L1233.5,1608.5 L1235.5,1608.3 L1237.5,1608.2 L1239.5,1608.2 L1241.5,1608.2 L1243.5,1608.2 L1245.5,1608.2 L1247.5,1608.2 L1249.5,1608.7 L1251.5,1610.6 L1253.5,1613.1 L1255.5,1615.1 L1257.5,1616.1 L1259.5,1616.6 L1261.5,1617.1 L1263.5,1617.3 L1265.5,1617.2 L1267.5,1616.8 L1269.5,1616.2 L1271.5,1615.4 L1273.5,1614.6 L1275.5,1613.9 L1277.5,1613.1 L1279.5,1612.3 L1281.5,1611.5 L1283.5,1610.6 L1285.5,1609.8 L1287.5,1609.1 L1289.5,1608.4 L1291.5,1607.9 L1293.5,1607.3 L1295.5,1606.8 L1297.5,1606.3 L1299.5,1605.7 L1301.5,1605.2 L1303.5,1604.5 L1305.5,1603.9 L1307.5,1603.2 L1309.5,1602.5 L1311.5,1601.9 L1313.5,1601.3 L1315.5,1600.7 L1317.5,1600.2 L1319.5,1599.7 L1321.5,1599.2 L1323.5,1598.8 L1325.5,1598.2 L1327.5,1597.7 L1329.5,1597.0 L1331.5,1596.3 L1333.5,1595.4 L1335.5,1594.6 L1337.5,1593.6 L1339.5,1592.7 L1341.5,1591.8 L1343.5,1590.8 L1345.5,1589.9 L1347.5,1588.9 L1349.5,1587.8 L1351.5,1586.8 L1353.5,1585.7 L1355.5,1584.8 L1357.5,1583.8 L1359.5,1582.6 L1361.5,1581.3 L1363.5,1579.5 L1365.5,1577.0 L1367.5,1573.9 L1369.5,1570.7 L1371.5,1567.2 L1373.5,1563.3 L1375.5,1559.2 L1377.5,1554.9 L1379.5,1550.6 L1381.5,1546.1 L1383.5,1541.4 L1385.5,1536.6 L1387.5,1531.7 L1389.5,1526.6 L1391.5,1521.4 L1393.5,1516.0 L1395.5,1510.4 L1397.5,1504.8 L1399.5,1499.1 L1401.5,1493.3 L1403.5,1487.0 L1405.5,1480.3 L1407.5,1472.8 L1409.5,1464.7 L1411.5,1456.2 L1413.5,1447.4 L1415.5,1438.0 L1417.5,1428.2 L1419.5,1418.2 L1421.5,1408.3 L1423.5,1398.2 L1425.5,1387.6 L1427.5,1376.2 L1429.5,1363.6 L1431.5,1350.3 L1433.5,1336.7 L1435.5,1322.8 L1437.5,1308.6 L1439.5,1294.6 L1441.5,1280.9 L1443.5,1266.9 L1445.5,1252.0 L1447.5,1236.3 L1449.5,1219.9 L1451.5,1203.0 L1453.5,1185.3 L1455.5,1168.5 L1457.5,1152.3 L1459.5,1139.6 L1461.5,1129.3 L1463.5,1129.4 L1465.5,1139.1 L1467.5,1152.3 L1469.5,1171.1 L1471.5,1195.5 L1473.5,1221.5 L1475.5,1249.3 L1477.5,1282.0 L1479.5,1311.8 L1481.5,1333.8 L1483.5,1353.5 L1485.5,1372.5 L1487.5,1390.9 L1489.5,1409.9 L1491.5,1428.7 L1493.5,1445.5 L1495.5,1460.9 L1497.5,1474.6 L1499.5,1487.3 L1501.5,1498.2 L1503.5,1507.4 L1505.5,1515.0 L1507.5,1518.6 L1509.5,1520.7 L1511.5,1521.8 L1513.5,1520.8 L1515.5,1516.9 L1517.5,1511.3 L1519.5,1502.4 L1521.5,1494.9 L1523.5,1489.0 L1525.5,1484.9 L1527.5,1482.7 L1529.5,1481.0 L1531.5,1478.9 L1533.5,1476.1 L1535.5,1472.9 L1537.5,1469.8 L1539.5,1466.1 L1541.5,1462.8 L1543.5,1461.5 L1545.5,1461.0 L1547.5,1460.6 L1549.5,1460.3 L1551.5,1460.2 L1553.5,1460.4 L1555.5,1461.0 L1557.5,1461.8 L1559.5,1462.6 L1561.5,1463.1 L1563.5,1463.3 L1565.5,1463.5 L1567.5,1463.6 L1569.5,1463.8 L1571.5,1464.0 L1573.5,1464.3 L1575.5,1464.9 L1577.5,1465.8 L1579.5,1466.8 L1581.5,1467.8 L1583.5,1468.9 L1585.5,1470.1 L1587.5,1471.5 L1589.5,1473.1 L1591.5,1475.1 L1593.5,1477.5 L1595.5,1480.2 L1597.5,1482.6 L1599.5,1485.3 L1601.5,1487.7 L1603.5,1488.8 L1605.5,1489.2 L1607.5,1489.4 L1609.5,1489.6 L1611.5,1489.4 L1613.5,1488.2 L1615.5,1486.2 L1617.5,1484.0 L1619.5,1481.5 L1621.5,1478.1 L1623.5,1473.7 L1625.5,1467.5 L1627.5,1459.2 L1629.5,1449.9 L1631.5,1439.9 L1633.5,1428.7 L1635.5,1416.8 L1637.5,1403.9 L1639.5,1390.2 L1641.5,1375.7 L1643.5,1360.8 L1645.5,1346.7 L1647.5,1333.3 L1649.5,1321.3 L1651.5,1310.6 L1653.5,1300.6 L1655.5,1290.9 L1657.5,1282.2 L1659.5,1274.5 L1661.5,1267.5 L1663.5,1261.4 L1665.5,1255.7 L1667.5,1250.7 L1669.5,1246.7 L1671.5,1243.5 L1673.5,1240.7 L1675.5,1238.3 L1677.5,1236.0 L1679.5,1234.3 L1681.5,1232.5 L1683.5,1230.2 L1685.5,1226.0 L1687.5,1220.8 L1689.5,1217.7 L1691.5,1215.3 L1693.5,1214.6 L1695.5,1217.6 L1697.5,1222.9 L1699.5,1230.0 L1701.5,1239.0 L1703.5,1245.4 L1705.5,1250.4 L1707.5,1255.0 L1709.5,1259.6 L1711.5,1264.2 L1713.5,1267.6 L1715.5,1269.2 L1717.5,1270.3 L1719.5,1270.9 L1721.5,1270.5 L1723.5,1269.5 L1725.5,1268.6 L1727.5,1268.1 L1729.5,1267.6 L1731.5,1267.4 L1733.5,1268.3 L1735.5,1270.8 L1737.5,1274.0 L1739.5,1279.3 L1741.5,1287.1 L1743.5,1295.2 L1745.5,1304.0 L1747.5,1313.4 L1749.5,1322.2 L1751.5,1330.6 L1753.5,1338.6 L1755.5,1346.0 L1757.5,1352.7 L1759.5,1359.1 L1761.5,1365.2 L1763.5,1371.1 L1765.5,1376.6 L1767.5,1382.0 L1769.5,1387.7 L1771.5,1393.8 L1773.5,1400.3 L1775.5,1406.8 L1777.5,1413.3 L1779.5,1419.8 L1781.5,1426.3 L1783.5,1432.6 L1785.5,1438.6 L1787.5,1444.6 L1789.5,1450.2 L1791.5,1455.3 L1793.5,1459.9 L1795.5,1464.2 L1797.5,1468.0 L1799.5,1471.2 L1801.5,1474.0 L1803.5,1476.7 L1805.5,1478.9 L1807.5,1480.6 L1809.5,1481.7 L1811.5,1482.8 L1813.5,1483.5 L1815.5,1483.7 L1817.5,1483.4 L1819.5,1482.7 L1821.5,1481.8 L1823.5,1480.8 L1825.5,1479.9 L1827.5,1479.1 L1829.5,1478.4 L1831.5,1477.6 L1833.5,1476.8 L1835.5,1475.8 L1837.5,1474.7 L1839.5,1473.4 L1841.5,1471.7 L1843.5,1469.9 L1845.5,1468.1 L1847.5,1466.1 L1849.5,1463.8 L1851.5,1462.0 L1853.5,1460.9 L1855.5,1460.2 L1857.5,1459.6 L1859.5,1458.8 L1861.5,1457.7 L1863.5,1456.0 L1865.5,1453.9 L1867.5,1451.3 L1869.5,1448.5 L1871.5,1445.0 L1873.5,1440.7 L1875.5,1435.8 L1877.5,1430.6 L1879.5,1424.6 L1881.5,1418.0 L1883.5,1411.2 L1885.5,1404.4 L1887.5,1397.3 L1889.5,1390.0 L1891.5,1382.5 L1893.5,1374.6 L1895.5,1366.4 L1897.5,1358.6 L1899.5,1350.9 L1901.5,1343.7 L1903.5,1337.8 L1905.5,1333.0 L1907.5,1329.8 L1909.5,1328.2 L1911.5,1327.3 L1913.5,1327.9 L1915.5,1330.7 L1917.5,1334.6 L1919.5,1339.9 L1921.5,1348.3 L1923.5,1357.5 L1925.5,1367.0 L1927.5,1377.3 L1929.5,1387.4 L1931.5,1396.9 L1933.5,1406.0 L1935.5,1414.5 L1937.5,1422.2 L1939.5,1429.5 L1941.5,1436.4 L1943.5,1443.2 L1945.5,1450.3 L1947.5,1457.2 L1949.5,1462.9 L1951.5,1467.4 L1953.5,1471.7 L1955.5,1475.0 L1957.5,1476.4 L1959.5,1476.4 L1961.5,1476.4 L1963.5,1476.4 L1965.5,1475.4 L1967.5,1473.0 L1969.5,1469.8 L1971.5,1466.2 L1973.5,1461.4 L1975.5,1455.4 L1977.5,1449.0 L1979.5,1442.4 L1981.5,1435.1 L1983.5,1427.6 L1985.5,1420.5 L1987.5,1413.9 L1989.5,1407.5 L1991.5,1401.2 L1993.5,1394.9 L1995.5,1389.0 L1997.5,1383.0 L1999.5,1376.1 L2001.5,1367.4 L2003.5,1356.6 L2005.5,1344.5 L2007.5,1331.7 L2009.5,1317.8 L2011.5,1303.1 L2013.5,1287.2 L2015.5,1270.7 L2017.5,1256.6 L2019.5,1244.2 L2021.5,1235.6 L2023.5,1229.0 L2025.5,1224.2 L2027.5,1221.2 L2029.5,1219.0 L2031.5,1218.1 L2033.5,1219.1 L2035.5,1221.8 L2037.5,1225.3 L2039.5,1231.3 L2041.5,1239.3 L2043.5,1248.2 L2045.5,1259.1 L2047.5,1270.9 L2049.5,1281.6 L2051.5,1291.6 L2053.5,1301.4 L2055.5,1311.3 L2057.5,1320.9 L2059.5,1331.0 L2061.5,1342.4 L2063.5,1354.9 L2065.5,1368.6 L2067.5,1384.2 L2069.5,1401.9 L2071.5,1420.3 L2073.5,1439.6 L2075.5,1457.0 L2077.5,1472.4 L2079.5,1485.8 L2081.5,1497.7 L2083.5,1507.5 L2085.5,1514.7 L2087.5,1520.7 L2089.5,1525.9 L2091.5,1530.3 L2093.5,1534.0 L2095.5,1537.7 L2097.5,1542.1 L2099.5,1547.6 L2101.5,1553.5 L2103.5,1559.3 L2105.5,1564.4 L2107.5,1569.4 L2109.5,1574.2 L2111.5,1578.7 L2113.5,1582.7 L2115.5,1586.6 L2117.5,1590.2 L2119.5,1593.4 L2121.5,1596.2 L2123.5,1598.5 L2125.5,1600.5 L2127.5,1602.4 L2129.5,1604.0 L2131.5,1605.5 L2133.5,1606.9 L2135.5,1608.2 L2137.5,1609.4 L2139.5,1610.6 L2141.5,1611.7 L2143.5,1612.7 L2145.5,1613.5 L2147.5,1614.1 L2149.5,1614.6 L2151.5,1614.9 L2153.5,1615.3 L2155.5,1615.5 L2157.5,1615.7 L2159.5,1615.8 L2160.0,1615.8" fill="none" stroke="#0000ff" stroke-width="13.7" stroke-linejoin="round" stroke-linecap="square"/>
</g>
<g id="labels">
<text transform="translate(155.50,1772.60) scale(0.6940,0.7020)" font-size="100" text-anchor="middle" class="tk">200</text>
<text transform="translate(422.50,1772.60) scale(0.6940,0.7020)" font-size="100" text-anchor="middle" class="tk">400</text>
<text transform="translate(689.50,1772.60) scale(0.6940,0.7020)" font-size="100" text-anchor="middle" class="tk">600</text>
<text transform="translate(956.50,1772.60) scale(0.6940,0.7020)" font-size="100" text-anchor="middle" class="tk">800</text>
<text transform="translate(1223.50,1772.60) scale(0.6940,0.7020)" font-size="100" text-anchor="middle" class="tk">1000</text>
<text transform="translate(1490.50,1772.60) scale(0.6940,0.7020)" font-size="100" text-anchor="middle" class="tk">1200</text>
<text transform="translate(1757.50,1772.60) scale(0.6940,0.7020)" font-size="100" text-anchor="middle" class="tk">1400</text>
<text transform="translate(2024.50,1772.60) scale(0.6940,0.7020)" font-size="100" text-anchor="middle" class="tk">1600</text>
<text transform="translate(804.40,1897.90) scale(0.8370,0.8560)" font-size="100">Raman shift (cm<tspan x="725.56" y="-31.66" font-size="58.50">-1</tspan><tspan x="783.34" y="0">)</tspan></text>
<text transform="translate(104.70,1013.92) rotate(-90) scale(0.8360,0.8520)" font-size="100">Intensity</text>
<text transform="translate(438.50,143.70) scale(0.8370,0.8660)" font-size="100">PANI</text>
<text transform="translate(981.50,135.20) scale(0.8370,0.8660)" font-size="100">PANI/MNPs</text>
<text transform="translate(216.28,481.80) scale(0.8370,0.8660)" font-size="100" style="fill:#ff0000">Ag</text>
<text transform="translate(225.60,1011.30) scale(0.8370,0.8660)" font-size="100" style="fill:#ff00ff">Pt</text>
<text transform="translate(208.58,1431.30) scale(0.8370,0.8660)" font-size="100" style="fill:#0000ff">AgPt</text>
</g>
</g>
</svg>
</body></html>
